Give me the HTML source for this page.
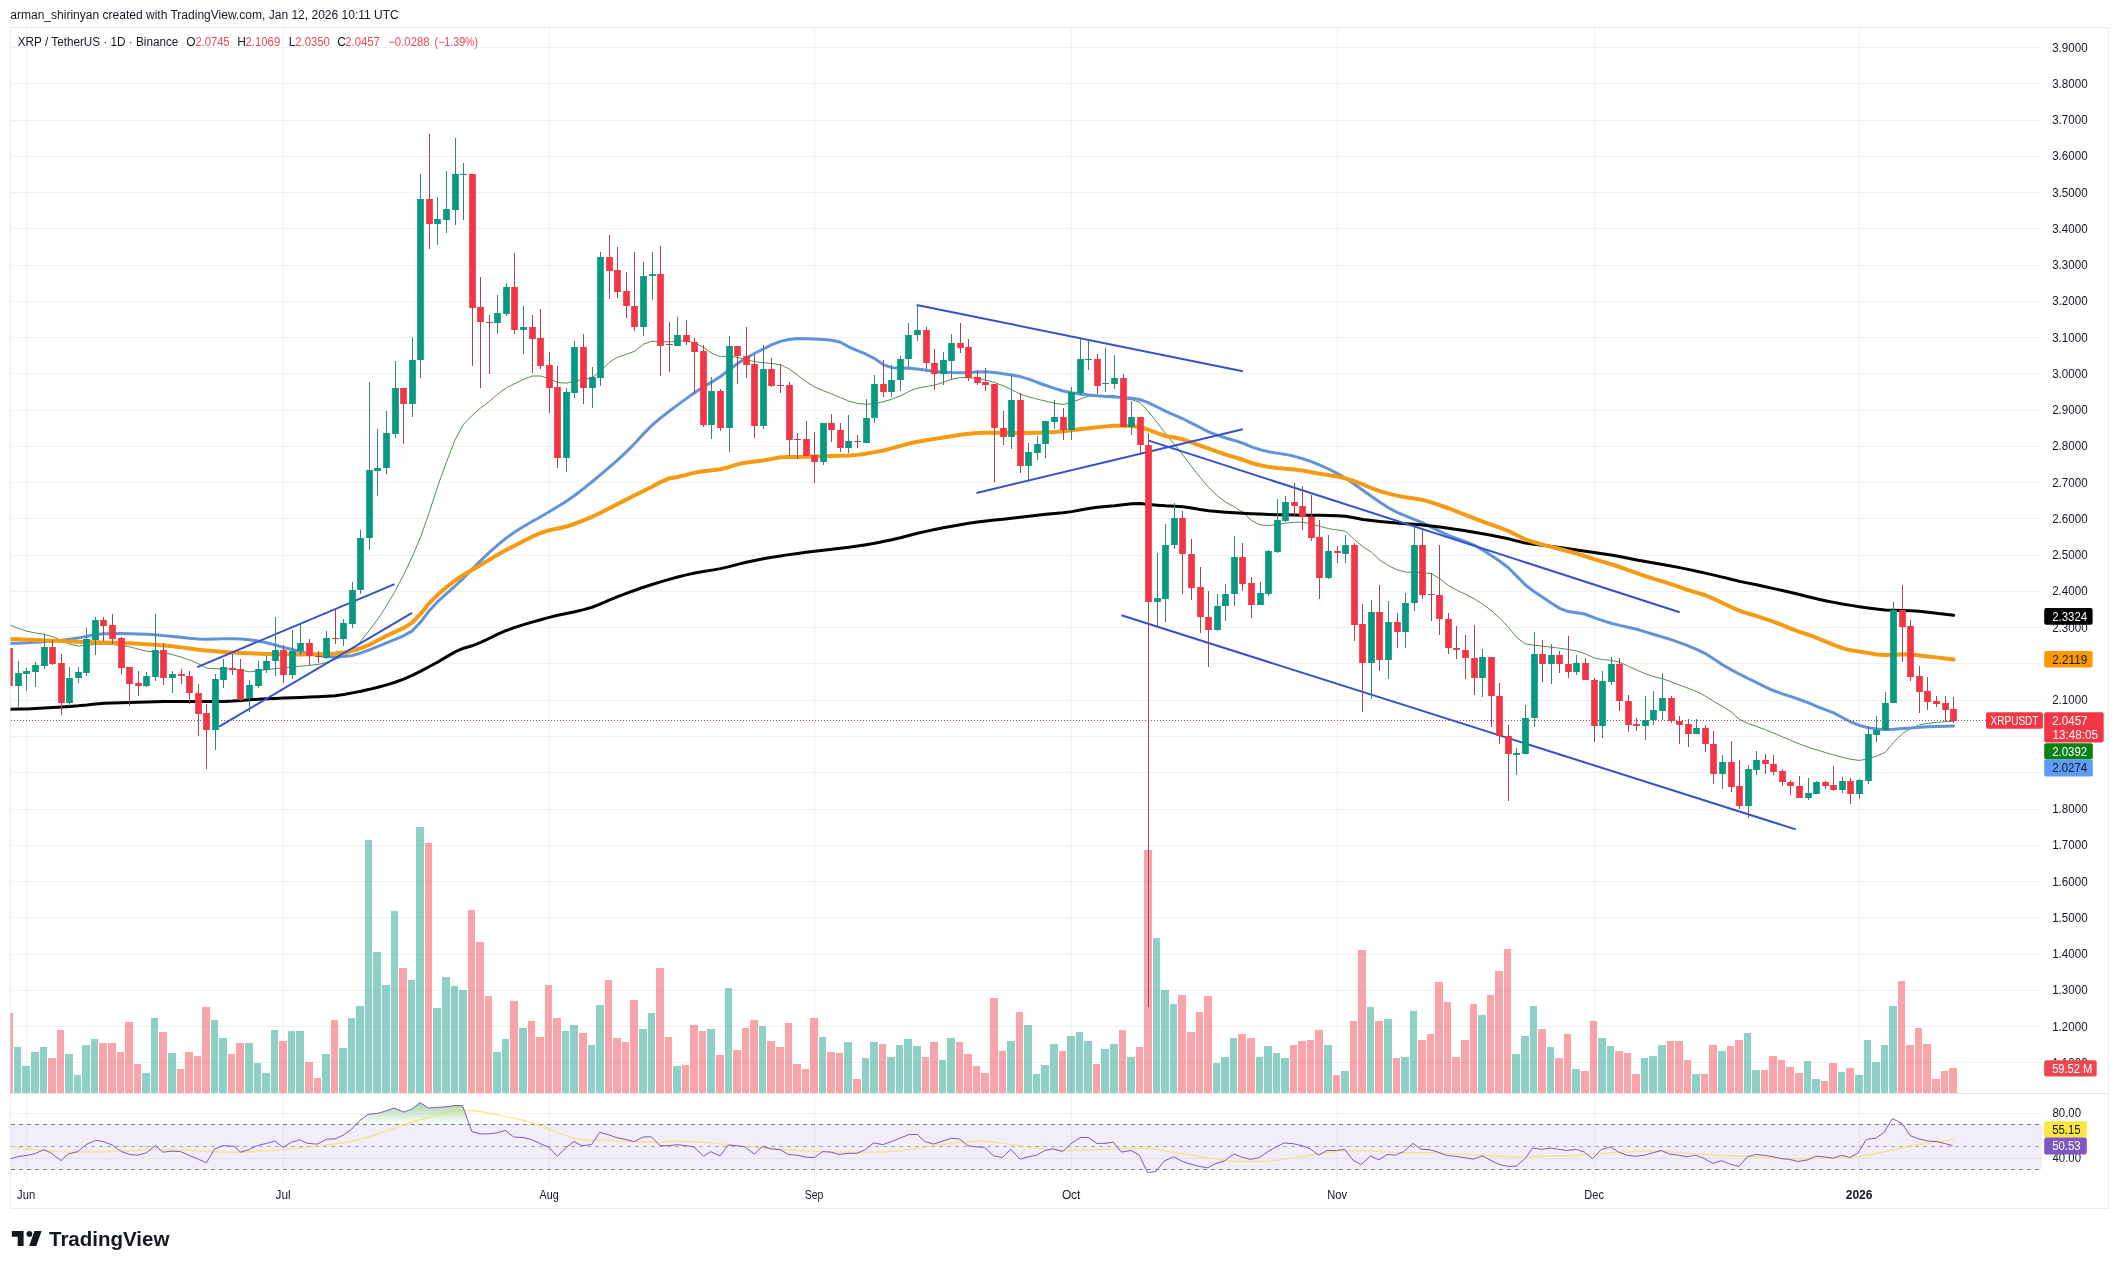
<!DOCTYPE html>
<html><head><meta charset="utf-8"><title>XRP / TetherUS chart</title>
<style>html,body{margin:0;padding:0;background:#fff;width:2119px;height:1269px;overflow:hidden}svg{display:block;will-change:transform}</style>
</head><body>
<svg width="2119" height="1269" viewBox="0 0 2119 1269"><defs>
<clipPath id="cmain"><rect x="10.5" y="27.5" width="2031.5" height="1066.0"/></clipPath>
<clipPath id="crsi"><rect x="10.5" y="1093.5" width="2031.5" height="89.5"/></clipPath>
<linearGradient id="gob" x1="0" y1="1100" x2="0" y2="1124.4" gradientUnits="userSpaceOnUse"><stop offset="0" stop-color="#4caf50" stop-opacity="0.55"/><stop offset="1" stop-color="#4caf50" stop-opacity="0.02"/></linearGradient>
</defs>
<rect x="10.5" y="27.5" width="2098.0" height="1181.0" fill="#fff" stroke="#ebebeb" stroke-width="1"/>
<g stroke="#f1f1f1" stroke-width="1" shape-rendering="crispEdges">
<line x1="10.5" y1="47.5" x2="2042" y2="47.5"/>
<line x1="10.5" y1="83.5" x2="2042" y2="83.5"/>
<line x1="10.5" y1="120.5" x2="2042" y2="120.5"/>
<line x1="10.5" y1="156.5" x2="2042" y2="156.5"/>
<line x1="10.5" y1="192.5" x2="2042" y2="192.5"/>
<line x1="10.5" y1="228.5" x2="2042" y2="228.5"/>
<line x1="10.5" y1="265.5" x2="2042" y2="265.5"/>
<line x1="10.5" y1="301.5" x2="2042" y2="301.5"/>
<line x1="10.5" y1="337.5" x2="2042" y2="337.5"/>
<line x1="10.5" y1="373.5" x2="2042" y2="373.5"/>
<line x1="10.5" y1="410.5" x2="2042" y2="410.5"/>
<line x1="10.5" y1="446.5" x2="2042" y2="446.5"/>
<line x1="10.5" y1="482.5" x2="2042" y2="482.5"/>
<line x1="10.5" y1="518.5" x2="2042" y2="518.5"/>
<line x1="10.5" y1="555.5" x2="2042" y2="555.5"/>
<line x1="10.5" y1="591.5" x2="2042" y2="591.5"/>
<line x1="10.5" y1="627.5" x2="2042" y2="627.5"/>
<line x1="10.5" y1="663.5" x2="2042" y2="663.5"/>
<line x1="10.5" y1="700.5" x2="2042" y2="700.5"/>
<line x1="10.5" y1="736.5" x2="2042" y2="736.5"/>
<line x1="10.5" y1="772.5" x2="2042" y2="772.5"/>
<line x1="10.5" y1="809.5" x2="2042" y2="809.5"/>
<line x1="10.5" y1="845.5" x2="2042" y2="845.5"/>
<line x1="10.5" y1="881.5" x2="2042" y2="881.5"/>
<line x1="10.5" y1="917.5" x2="2042" y2="917.5"/>
<line x1="10.5" y1="954.5" x2="2042" y2="954.5"/>
<line x1="10.5" y1="990.5" x2="2042" y2="990.5"/>
<line x1="10.5" y1="1026.5" x2="2042" y2="1026.5"/>
<line x1="10.5" y1="1062.5" x2="2042" y2="1062.5"/>
<line x1="10.5" y1="1113.5" x2="2042" y2="1113.5"/>
<line x1="10.5" y1="1158.5" x2="2042" y2="1158.5"/>
<line x1="26.5" y1="27.5" x2="26.5" y2="1183"/>
<line x1="283.5" y1="27.5" x2="283.5" y2="1183"/>
<line x1="549.5" y1="27.5" x2="549.5" y2="1183"/>
<line x1="814.5" y1="27.5" x2="814.5" y2="1183"/>
<line x1="1071.5" y1="27.5" x2="1071.5" y2="1183"/>
<line x1="1337.5" y1="27.5" x2="1337.5" y2="1183"/>
<line x1="1594.5" y1="27.5" x2="1594.5" y2="1183"/>
<line x1="1859.5" y1="27.5" x2="1859.5" y2="1183"/>
</g>
<g clip-path="url(#cmain)" fill-opacity="0.46">
<rect x="5" y="1013" width="8" height="80" fill="#f23645"/>
<rect x="14" y="1047" width="7" height="46" fill="#089981"/>
<rect x="22" y="1066" width="8" height="27" fill="#089981"/>
<rect x="31" y="1052" width="8" height="41" fill="#089981"/>
<rect x="40" y="1047" width="7" height="46" fill="#089981"/>
<rect x="48" y="1058" width="8" height="35" fill="#f23645"/>
<rect x="57" y="1030" width="7" height="63" fill="#f23645"/>
<rect x="65" y="1054" width="8" height="39" fill="#089981"/>
<rect x="74" y="1075" width="7" height="18" fill="#089981"/>
<rect x="82" y="1045" width="8" height="48" fill="#089981"/>
<rect x="91" y="1039" width="7" height="54" fill="#089981"/>
<rect x="99" y="1043" width="8" height="50" fill="#f23645"/>
<rect x="108" y="1043" width="8" height="50" fill="#f23645"/>
<rect x="117" y="1052" width="7" height="41" fill="#f23645"/>
<rect x="125" y="1022" width="8" height="71" fill="#f23645"/>
<rect x="134" y="1064" width="7" height="29" fill="#f23645"/>
<rect x="142" y="1073" width="8" height="20" fill="#089981"/>
<rect x="151" y="1018" width="7" height="75" fill="#089981"/>
<rect x="159" y="1032" width="8" height="61" fill="#f23645"/>
<rect x="168" y="1053" width="8" height="40" fill="#089981"/>
<rect x="177" y="1069" width="7" height="24" fill="#f23645"/>
<rect x="185" y="1052" width="8" height="41" fill="#f23645"/>
<rect x="194" y="1056" width="7" height="37" fill="#f23645"/>
<rect x="202" y="1007" width="8" height="86" fill="#f23645"/>
<rect x="211" y="1020" width="7" height="73" fill="#089981"/>
<rect x="219" y="1038" width="8" height="55" fill="#089981"/>
<rect x="228" y="1054" width="7" height="39" fill="#f23645"/>
<rect x="236" y="1043" width="8" height="50" fill="#f23645"/>
<rect x="245" y="1043" width="8" height="50" fill="#089981"/>
<rect x="254" y="1063" width="7" height="30" fill="#089981"/>
<rect x="262" y="1073" width="8" height="20" fill="#089981"/>
<rect x="271" y="1030" width="7" height="63" fill="#089981"/>
<rect x="279" y="1041" width="8" height="52" fill="#f23645"/>
<rect x="288" y="1031" width="7" height="62" fill="#089981"/>
<rect x="296" y="1031" width="8" height="62" fill="#089981"/>
<rect x="305" y="1062" width="8" height="31" fill="#f23645"/>
<rect x="314" y="1078" width="7" height="15" fill="#f23645"/>
<rect x="322" y="1054" width="8" height="39" fill="#089981"/>
<rect x="331" y="1020" width="7" height="73" fill="#f23645"/>
<rect x="339" y="1048" width="8" height="45" fill="#089981"/>
<rect x="348" y="1018" width="7" height="75" fill="#089981"/>
<rect x="356" y="1006" width="8" height="87" fill="#089981"/>
<rect x="365" y="840" width="7" height="253" fill="#089981"/>
<rect x="373" y="952" width="8" height="141" fill="#089981"/>
<rect x="382" y="985" width="8" height="108" fill="#089981"/>
<rect x="391" y="911" width="7" height="182" fill="#089981"/>
<rect x="399" y="968" width="8" height="125" fill="#f23645"/>
<rect x="408" y="980" width="7" height="113" fill="#089981"/>
<rect x="416" y="827" width="8" height="266" fill="#089981"/>
<rect x="425" y="843" width="7" height="250" fill="#f23645"/>
<rect x="433" y="1008" width="8" height="85" fill="#089981"/>
<rect x="442" y="977" width="8" height="116" fill="#089981"/>
<rect x="451" y="986" width="7" height="107" fill="#089981"/>
<rect x="459" y="990" width="8" height="103" fill="#089981"/>
<rect x="468" y="910" width="7" height="183" fill="#f23645"/>
<rect x="476" y="942" width="8" height="151" fill="#f23645"/>
<rect x="485" y="996" width="7" height="97" fill="#f23645"/>
<rect x="493" y="1052" width="8" height="41" fill="#089981"/>
<rect x="502" y="1039" width="7" height="54" fill="#089981"/>
<rect x="510" y="1001" width="8" height="92" fill="#f23645"/>
<rect x="519" y="1028" width="8" height="65" fill="#089981"/>
<rect x="528" y="1021" width="7" height="72" fill="#f23645"/>
<rect x="536" y="1037" width="8" height="56" fill="#f23645"/>
<rect x="545" y="985" width="7" height="108" fill="#f23645"/>
<rect x="553" y="1018" width="8" height="75" fill="#f23645"/>
<rect x="562" y="1031" width="7" height="62" fill="#089981"/>
<rect x="570" y="1025" width="8" height="68" fill="#089981"/>
<rect x="579" y="1033" width="8" height="60" fill="#f23645"/>
<rect x="588" y="1045" width="7" height="48" fill="#089981"/>
<rect x="596" y="1005" width="8" height="88" fill="#089981"/>
<rect x="605" y="980" width="7" height="113" fill="#f23645"/>
<rect x="613" y="1038" width="8" height="55" fill="#f23645"/>
<rect x="622" y="1042" width="7" height="51" fill="#f23645"/>
<rect x="630" y="1000" width="8" height="93" fill="#f23645"/>
<rect x="639" y="1029" width="8" height="64" fill="#089981"/>
<rect x="648" y="1013" width="7" height="80" fill="#089981"/>
<rect x="656" y="968" width="8" height="125" fill="#f23645"/>
<rect x="665" y="1037" width="7" height="56" fill="#f23645"/>
<rect x="673" y="1066" width="8" height="27" fill="#089981"/>
<rect x="682" y="1065" width="7" height="28" fill="#f23645"/>
<rect x="690" y="1025" width="8" height="68" fill="#f23645"/>
<rect x="699" y="1031" width="7" height="62" fill="#f23645"/>
<rect x="707" y="1029" width="8" height="64" fill="#089981"/>
<rect x="716" y="1055" width="8" height="38" fill="#f23645"/>
<rect x="725" y="988" width="7" height="105" fill="#089981"/>
<rect x="733" y="1050" width="8" height="43" fill="#f23645"/>
<rect x="742" y="1028" width="7" height="65" fill="#f23645"/>
<rect x="750" y="1020" width="8" height="73" fill="#f23645"/>
<rect x="759" y="1026" width="7" height="67" fill="#089981"/>
<rect x="767" y="1041" width="8" height="52" fill="#f23645"/>
<rect x="776" y="1047" width="8" height="46" fill="#f23645"/>
<rect x="785" y="1023" width="7" height="70" fill="#f23645"/>
<rect x="793" y="1064" width="8" height="29" fill="#f23645"/>
<rect x="802" y="1069" width="7" height="24" fill="#f23645"/>
<rect x="810" y="1018" width="8" height="75" fill="#f23645"/>
<rect x="819" y="1037" width="7" height="56" fill="#089981"/>
<rect x="827" y="1052" width="8" height="41" fill="#f23645"/>
<rect x="836" y="1053" width="7" height="40" fill="#f23645"/>
<rect x="844" y="1042" width="8" height="51" fill="#089981"/>
<rect x="853" y="1079" width="8" height="14" fill="#f23645"/>
<rect x="862" y="1058" width="7" height="35" fill="#089981"/>
<rect x="870" y="1042" width="8" height="51" fill="#089981"/>
<rect x="879" y="1044" width="7" height="49" fill="#f23645"/>
<rect x="887" y="1057" width="8" height="36" fill="#089981"/>
<rect x="896" y="1045" width="7" height="48" fill="#089981"/>
<rect x="904" y="1039" width="8" height="54" fill="#089981"/>
<rect x="913" y="1046" width="8" height="47" fill="#089981"/>
<rect x="922" y="1057" width="7" height="36" fill="#f23645"/>
<rect x="930" y="1042" width="8" height="51" fill="#f23645"/>
<rect x="939" y="1060" width="7" height="33" fill="#089981"/>
<rect x="947" y="1038" width="8" height="55" fill="#089981"/>
<rect x="956" y="1042" width="7" height="51" fill="#f23645"/>
<rect x="964" y="1054" width="8" height="39" fill="#f23645"/>
<rect x="973" y="1066" width="7" height="27" fill="#f23645"/>
<rect x="981" y="1073" width="8" height="20" fill="#f23645"/>
<rect x="990" y="998" width="8" height="95" fill="#f23645"/>
<rect x="999" y="1051" width="7" height="42" fill="#f23645"/>
<rect x="1007" y="1041" width="8" height="52" fill="#089981"/>
<rect x="1016" y="1012" width="7" height="81" fill="#f23645"/>
<rect x="1024" y="1025" width="8" height="68" fill="#089981"/>
<rect x="1033" y="1074" width="7" height="19" fill="#089981"/>
<rect x="1041" y="1065" width="8" height="28" fill="#089981"/>
<rect x="1050" y="1044" width="8" height="49" fill="#089981"/>
<rect x="1059" y="1051" width="7" height="42" fill="#f23645"/>
<rect x="1067" y="1036" width="8" height="57" fill="#089981"/>
<rect x="1076" y="1032" width="7" height="61" fill="#089981"/>
<rect x="1084" y="1041" width="8" height="52" fill="#089981"/>
<rect x="1093" y="1064" width="7" height="29" fill="#f23645"/>
<rect x="1101" y="1049" width="8" height="44" fill="#089981"/>
<rect x="1110" y="1044" width="8" height="49" fill="#089981"/>
<rect x="1119" y="1030" width="7" height="63" fill="#f23645"/>
<rect x="1127" y="1057" width="8" height="36" fill="#089981"/>
<rect x="1136" y="1047" width="7" height="46" fill="#f23645"/>
<rect x="1144" y="850" width="8" height="243" fill="#f23645"/>
<rect x="1153" y="938" width="7" height="155" fill="#089981"/>
<rect x="1161" y="990" width="8" height="103" fill="#089981"/>
<rect x="1170" y="1004" width="7" height="89" fill="#089981"/>
<rect x="1178" y="995" width="8" height="98" fill="#f23645"/>
<rect x="1187" y="1032" width="8" height="61" fill="#f23645"/>
<rect x="1196" y="1012" width="7" height="81" fill="#f23645"/>
<rect x="1204" y="996" width="8" height="97" fill="#f23645"/>
<rect x="1213" y="1063" width="7" height="30" fill="#089981"/>
<rect x="1221" y="1057" width="8" height="36" fill="#089981"/>
<rect x="1230" y="1038" width="7" height="55" fill="#089981"/>
<rect x="1238" y="1034" width="8" height="59" fill="#f23645"/>
<rect x="1247" y="1038" width="8" height="55" fill="#f23645"/>
<rect x="1256" y="1057" width="7" height="36" fill="#089981"/>
<rect x="1264" y="1046" width="8" height="47" fill="#089981"/>
<rect x="1273" y="1053" width="7" height="40" fill="#089981"/>
<rect x="1281" y="1058" width="8" height="35" fill="#089981"/>
<rect x="1290" y="1045" width="7" height="48" fill="#f23645"/>
<rect x="1298" y="1041" width="8" height="52" fill="#f23645"/>
<rect x="1307" y="1040" width="7" height="53" fill="#f23645"/>
<rect x="1315" y="1030" width="8" height="63" fill="#f23645"/>
<rect x="1324" y="1045" width="8" height="48" fill="#089981"/>
<rect x="1333" y="1075" width="7" height="18" fill="#f23645"/>
<rect x="1341" y="1071" width="8" height="22" fill="#089981"/>
<rect x="1350" y="1021" width="7" height="72" fill="#f23645"/>
<rect x="1358" y="950" width="8" height="143" fill="#f23645"/>
<rect x="1367" y="1007" width="7" height="86" fill="#089981"/>
<rect x="1375" y="1021" width="8" height="72" fill="#f23645"/>
<rect x="1384" y="1019" width="8" height="74" fill="#089981"/>
<rect x="1393" y="1058" width="7" height="35" fill="#f23645"/>
<rect x="1401" y="1057" width="8" height="36" fill="#089981"/>
<rect x="1410" y="1011" width="7" height="82" fill="#089981"/>
<rect x="1418" y="1040" width="8" height="53" fill="#f23645"/>
<rect x="1427" y="1034" width="7" height="59" fill="#f23645"/>
<rect x="1435" y="982" width="8" height="111" fill="#f23645"/>
<rect x="1444" y="1002" width="7" height="91" fill="#f23645"/>
<rect x="1452" y="1057" width="8" height="36" fill="#f23645"/>
<rect x="1461" y="1040" width="8" height="53" fill="#f23645"/>
<rect x="1470" y="1004" width="7" height="89" fill="#f23645"/>
<rect x="1478" y="1015" width="8" height="78" fill="#089981"/>
<rect x="1487" y="995" width="7" height="98" fill="#f23645"/>
<rect x="1495" y="971" width="8" height="122" fill="#f23645"/>
<rect x="1504" y="949" width="7" height="144" fill="#f23645"/>
<rect x="1512" y="1054" width="8" height="39" fill="#089981"/>
<rect x="1521" y="1036" width="8" height="57" fill="#089981"/>
<rect x="1530" y="1006" width="7" height="87" fill="#089981"/>
<rect x="1538" y="1029" width="8" height="64" fill="#f23645"/>
<rect x="1547" y="1047" width="7" height="46" fill="#089981"/>
<rect x="1555" y="1058" width="8" height="35" fill="#f23645"/>
<rect x="1564" y="1034" width="7" height="59" fill="#f23645"/>
<rect x="1572" y="1069" width="8" height="24" fill="#089981"/>
<rect x="1581" y="1071" width="8" height="22" fill="#f23645"/>
<rect x="1590" y="1021" width="7" height="72" fill="#f23645"/>
<rect x="1598" y="1038" width="8" height="55" fill="#089981"/>
<rect x="1607" y="1046" width="7" height="47" fill="#089981"/>
<rect x="1615" y="1051" width="8" height="42" fill="#f23645"/>
<rect x="1624" y="1053" width="7" height="40" fill="#f23645"/>
<rect x="1632" y="1074" width="8" height="19" fill="#f23645"/>
<rect x="1641" y="1058" width="7" height="35" fill="#089981"/>
<rect x="1649" y="1056" width="8" height="37" fill="#089981"/>
<rect x="1658" y="1045" width="8" height="48" fill="#089981"/>
<rect x="1667" y="1041" width="7" height="52" fill="#f23645"/>
<rect x="1675" y="1041" width="8" height="52" fill="#f23645"/>
<rect x="1684" y="1060" width="7" height="33" fill="#f23645"/>
<rect x="1692" y="1074" width="8" height="19" fill="#089981"/>
<rect x="1701" y="1074" width="7" height="19" fill="#f23645"/>
<rect x="1709" y="1045" width="8" height="48" fill="#f23645"/>
<rect x="1718" y="1051" width="8" height="42" fill="#089981"/>
<rect x="1727" y="1046" width="7" height="47" fill="#f23645"/>
<rect x="1735" y="1040" width="8" height="53" fill="#f23645"/>
<rect x="1744" y="1033" width="7" height="60" fill="#089981"/>
<rect x="1752" y="1070" width="8" height="23" fill="#089981"/>
<rect x="1761" y="1070" width="7" height="23" fill="#f23645"/>
<rect x="1769" y="1056" width="8" height="37" fill="#f23645"/>
<rect x="1778" y="1060" width="7" height="33" fill="#f23645"/>
<rect x="1786" y="1067" width="8" height="26" fill="#f23645"/>
<rect x="1795" y="1073" width="8" height="20" fill="#f23645"/>
<rect x="1804" y="1061" width="7" height="32" fill="#089981"/>
<rect x="1812" y="1079" width="8" height="14" fill="#089981"/>
<rect x="1821" y="1081" width="7" height="12" fill="#f23645"/>
<rect x="1829" y="1063" width="8" height="30" fill="#f23645"/>
<rect x="1838" y="1072" width="7" height="21" fill="#089981"/>
<rect x="1846" y="1068" width="8" height="25" fill="#f23645"/>
<rect x="1855" y="1075" width="8" height="18" fill="#089981"/>
<rect x="1864" y="1040" width="7" height="53" fill="#089981"/>
<rect x="1872" y="1062" width="8" height="31" fill="#089981"/>
<rect x="1881" y="1045" width="7" height="48" fill="#089981"/>
<rect x="1889" y="1006" width="8" height="87" fill="#089981"/>
<rect x="1898" y="981" width="7" height="112" fill="#f23645"/>
<rect x="1906" y="1045" width="8" height="48" fill="#f23645"/>
<rect x="1915" y="1028" width="7" height="65" fill="#f23645"/>
<rect x="1923" y="1044" width="8" height="49" fill="#f23645"/>
<rect x="1932" y="1079" width="8" height="14" fill="#f23645"/>
<rect x="1941" y="1071" width="7" height="22" fill="#f23645"/>
<rect x="1949" y="1068" width="8" height="25" fill="#f23645"/>
</g>
<g clip-path="url(#cmain)" fill="none" stroke-linejoin="round" stroke-linecap="round">
<polyline points="10,624.8 18.32,628.38 26.88,631.22 35.44,632.97 44.01,634.29 52.57,636.78 61.13,640.17 69.7,644.14 78.26,646 86.82,645.29 95.39,644.23 103.95,644.07 112.51,644.6 121.08,645.55 129.64,646.75 138.21,649.14 146.77,651.25 155.33,652.04 163.9,652.85 172.46,654.56 181.02,657.01 189.59,660.02 198.15,663.57 206.71,668.17 215.28,668.75 223.84,668.91 232.4,669.12 240.97,670.19 249.53,671.8 258.09,671.03 266.66,669.64 275.22,668.66 283.78,667.8 292.35,666.98 300.91,666.15 309.48,665.37 318.04,664.44 326.6,662.45 335.17,659.42 343.73,656.08 352.29,650.93 360.86,641.13 369.42,630.39 377.98,618.74 386.55,605.81 395.11,591.18 403.67,574.73 412.24,556.8 420.8,536.5 429.36,511.92 437.93,485.49 446.49,461.91 455.05,439.86 463.62,424.09 472.18,415.35 480.75,407.82 489.31,401.47 497.87,393.97 506.44,387.74 515,383.55 523.56,379.3 532.13,376 540.69,376 549.25,378.74 557.82,382.63 566.38,383.11 574.94,380.91 583.51,379.6 592.07,377.73 600.63,371.01 609.2,362.34 617.76,357.04 626.32,354.33 634.89,351.16 643.45,344.26 652.02,341.22 660.58,341.61 669.14,341.9 677.71,341.27 686.27,340.86 694.83,343 703.4,347.35 711.96,353.4 720.52,356.69 729.09,356.05 737.65,357.39 746.21,359.66 754.78,361.65 763.34,362.69 771.9,363.52 780.47,364.86 789.03,368.85 797.59,375.12 806.16,381.8 814.72,387.05 823.29,390.69 831.85,393.92 840.41,397.49 848.98,401.31 857.54,403.37 866.1,404.3 874.67,403.46 883.23,401.84 891.79,399.24 900.36,395.9 908.92,391.48 917.48,388.17 926.05,386.51 934.61,385.05 943.17,382.5 951.74,379.17 960.3,377.5 968.86,377.78 977.43,378.43 985.99,380.1 994.56,382.5 1003.12,385.76 1011.68,389.77 1020.25,394.09 1028.81,396.9 1037.37,399.17 1045.94,401.16 1054.5,403.27 1063.06,404.48 1071.63,402.47 1080.19,399.08 1088.75,396.14 1097.32,395.5 1105.88,395.5 1114.44,395.67 1123.01,398.49 1131.57,399.68 1140.13,402.45 1148.7,412.09 1157.26,422.66 1165.83,434.02 1174.39,444.44 1182.95,455.09 1191.52,466.41 1200.08,477.31 1208.64,487.5 1217.21,495.65 1225.77,502.21 1234.33,506.83 1242.9,512.1 1251.46,520.47 1260.02,524.81 1268.59,525.57 1277.15,524.76 1285.71,523.1 1294.28,522.28 1302.84,522.11 1311.4,524.08 1319.97,526.33 1328.53,528.58 1337.1,529.93 1345.66,531.28 1354.22,539.55 1362.79,546.54 1371.35,552.18 1379.91,560.2 1388.48,565.64 1397.04,569.92 1405.6,572.09 1414.17,572.48 1422.73,572.7 1431.29,573.58 1439.86,578.75 1448.42,585.5 1456.98,590.29 1465.55,594.32 1474.11,598.75 1482.67,604.13 1491.24,610.5 1499.8,618.42 1508.37,627.08 1516.93,637.77 1525.49,643.93 1534.06,645.26 1542.62,646.15 1551.18,647.18 1559.75,648.23 1568.31,649.48 1576.87,651.05 1585.44,653.87 1594,657.87 1602.56,659.58 1611.13,660.37 1619.69,662.2 1628.25,666.23 1636.82,670.11 1645.38,673.75 1653.94,676.61 1662.51,678.73 1671.07,681.81 1679.64,685.17 1688.2,688.26 1696.76,691.65 1705.33,696.17 1713.89,701.43 1722.45,706.38 1731.02,711.85 1739.58,719.39 1748.14,723.61 1756.71,726.45 1765.27,729.7 1773.83,733.16 1782.4,736.82 1790.96,740.48 1799.52,744.01 1808.09,747.13 1816.65,749.83 1825.21,752.48 1833.78,755.02 1842.34,757.31 1850.91,759.25 1859.47,760.48 1868.03,758.68 1876.6,756.1 1885.16,752.37 1893.72,742.2 1902.29,733.68 1910.85,728.22 1919.41,724.88 1927.98,723.32 1936.54,722.38 1945.1,721.72 1953.67,721.3" stroke="#588c52" stroke-width="1"/>
<polyline points="10,643.3 18.32,643.19 26.88,642.86 35.44,642.37 44.01,641.75 52.57,641.04 61.13,640.3 69.7,639.22 78.26,637.88 86.82,636.22 95.39,634.46 103.95,633.87 112.51,633.66 121.08,633.6 129.64,633.72 138.21,633.99 146.77,634.35 155.33,634.84 163.9,635.63 172.46,636.42 181.02,637.35 189.59,638.29 198.15,638.99 206.71,639.19 215.28,639.02 223.84,638.78 232.4,638.72 240.97,639.1 249.53,639.76 258.09,640.96 266.66,642.83 275.22,644.97 283.78,647.48 292.35,649.56 300.91,651.81 309.48,653.91 318.04,655.29 326.6,656.42 335.17,656.9 343.73,656.57 352.29,655.63 360.86,652.88 369.42,649.81 377.98,646.42 386.55,642.82 395.11,639.4 403.67,635.81 412.24,630.85 420.8,621.81 429.36,610.66 437.93,601.3 446.49,593.52 455.05,586.03 463.62,577.97 472.18,569.04 480.75,560.61 489.31,552.46 497.87,544.8 506.44,537.85 515,531.79 523.56,526.47 532.13,521.56 540.69,516.76 549.25,511.73 557.82,506.54 566.38,501.2 574.94,495.25 583.51,488.68 592.07,481.75 600.63,474.66 609.2,467.38 617.76,459.81 626.32,451.9 634.89,443.22 643.45,433.87 652.02,425.24 660.58,417.92 669.14,411.23 677.71,404.88 686.27,398.61 694.83,392.54 703.4,386.96 711.96,381.86 720.52,376.44 729.09,370.05 737.65,363.51 746.21,357.97 754.78,353.25 763.34,348.98 771.9,344.7 780.47,341.4 789.03,339.55 797.59,338.6 806.16,338.71 814.72,339.03 823.29,339.48 831.85,340.33 840.41,342.22 848.98,347 857.54,350.71 866.1,354.21 874.67,358.64 883.23,364.58 891.79,367.66 900.36,368.05 908.92,368.3 917.48,368.94 926.05,370.28 934.61,371.52 943.17,372.14 951.74,372.61 960.3,372.8 968.86,372.47 977.43,371.91 985.99,371.73 994.56,372.43 1003.12,373.64 1011.68,374.91 1020.25,376.56 1028.81,379.19 1037.37,382.47 1045.94,385.5 1054.5,388.37 1063.06,390.98 1071.63,392.78 1080.19,394.06 1088.75,395.06 1097.32,395.84 1105.88,396.41 1114.44,396.96 1123.01,397.57 1131.57,398.23 1140.13,399.56 1148.7,402.79 1157.26,407.03 1165.83,411.44 1174.39,415.03 1182.95,418.78 1191.52,423.08 1200.08,427.5 1208.64,431.83 1217.21,435.14 1225.77,437.95 1234.33,440.44 1242.9,443.22 1251.46,446.84 1260.02,449.62 1268.59,451.7 1277.15,453.12 1285.71,454.4 1294.28,456.32 1302.84,458.71 1311.4,461.67 1319.97,465.08 1328.53,468.99 1337.1,473.33 1345.66,478.23 1354.22,484.05 1362.79,490.22 1371.35,496.29 1379.91,502.18 1388.48,507.84 1397.04,512.26 1405.6,515.92 1414.17,519.3 1422.73,522.81 1431.29,527.17 1439.86,531.39 1448.42,535.27 1456.98,538.67 1465.55,541.61 1474.11,545.06 1482.67,549.96 1491.24,555.61 1499.8,561.31 1508.37,567.79 1516.93,576.38 1525.49,584.96 1534.06,591.47 1542.62,597.15 1551.18,602.91 1559.75,608.36 1568.31,611.56 1576.87,612.72 1585.44,614.26 1594,617.63 1602.56,620.63 1611.13,623.22 1619.69,625.39 1628.25,627.19 1636.82,629.29 1645.38,631.85 1653.94,634.46 1662.51,636.99 1671.07,639.68 1679.64,642.56 1688.2,645.76 1696.76,649.37 1705.33,653.57 1713.89,658.98 1722.45,664.71 1731.02,669.63 1739.58,674.21 1748.14,678.53 1756.71,682.63 1765.27,686.79 1773.83,690.77 1782.4,693.81 1790.96,696.59 1799.52,699.49 1808.09,702.71 1816.65,706.4 1825.21,709.72 1833.78,712.95 1842.34,717.49 1850.91,721.99 1859.47,725.45 1868.03,727.61 1876.6,729.07 1885.16,729.48 1893.72,729.13 1902.29,728.53 1910.85,727.95 1919.41,727.36 1927.98,726.8 1936.54,726.46 1945.1,726.22 1953.67,726.1" stroke="#6292d8" stroke-width="3"/>
<polyline points="10,709.2 18.32,709.11 26.88,708.88 35.44,708.55 44.01,708.12 52.57,707.62 61.13,707.06 69.7,706.45 78.26,705.83 86.82,704.97 95.39,703.89 103.95,703.29 112.51,702.93 121.08,702.65 129.64,702.41 138.21,702.16 146.77,701.9 155.33,701.68 163.9,701.53 172.46,701.5 181.02,701.5 189.59,701.5 198.15,701.5 206.71,701.5 215.28,701.5 223.84,701.45 232.4,701.08 240.97,700.46 249.53,699.76 258.09,699.16 266.66,698.75 275.22,698.41 283.78,698.1 292.35,697.79 300.91,697.45 309.48,697.09 318.04,696.73 326.6,696.29 335.17,695.69 343.73,694.46 352.29,692.88 360.86,691.21 369.42,689.34 377.98,687.24 386.55,684.9 395.11,682.24 403.67,679.17 412.24,675.39 420.8,671.07 429.36,666.54 437.93,662 446.49,656.87 455.05,651.91 463.62,648.2 472.18,645.77 480.75,642.33 489.31,638.32 497.87,634.22 506.44,630.49 515,627.44 523.56,624.68 532.13,622.12 540.69,619.72 549.25,617.41 557.82,615.33 566.38,613.49 574.94,611.67 583.51,609.66 592.07,607.25 600.63,603.97 609.2,600.15 617.76,596.65 626.32,593.4 634.89,590.25 643.45,587.26 652.02,584.49 660.58,581.88 669.14,579.36 677.71,577 686.27,574.85 694.83,572.95 703.4,571.43 711.96,570.11 720.52,568.62 729.09,566.63 737.65,564.33 746.21,562.18 754.78,560.41 763.34,558.78 771.9,557.28 780.47,555.9 789.03,554.64 797.59,553.48 806.16,552.36 814.72,551.25 823.29,550.2 831.85,549.21 840.41,548.22 848.98,547.18 857.54,546.03 866.1,544.7 874.67,543.19 883.23,541.51 891.79,539.72 900.36,537.71 908.92,535.47 917.48,533.32 926.05,531.4 934.61,529.56 943.17,527.8 951.74,526.16 960.3,524.66 968.86,523.28 977.43,522.02 985.99,520.92 994.56,520 1003.12,519.18 1011.68,518.31 1020.25,517.32 1028.81,516.25 1037.37,515.2 1045.94,514.24 1054.5,513.44 1063.06,512.65 1071.63,511.62 1080.19,510.08 1088.75,508.47 1097.32,507.33 1105.88,506.49 1114.44,505.72 1123.01,504.75 1131.57,503.69 1140.13,503.53 1148.7,504.53 1157.26,505.25 1165.83,505.86 1174.39,506.23 1182.95,506.75 1191.52,508 1200.08,509.56 1208.64,510.84 1217.21,511.58 1225.77,512.16 1234.33,512.66 1242.9,513.14 1251.46,513.64 1260.02,514.09 1268.59,514.44 1277.15,514.67 1285.71,514.85 1294.28,515 1302.84,515.13 1311.4,515.23 1319.97,515.32 1328.53,515.45 1337.1,515.71 1345.66,516.26 1354.22,517.82 1362.79,519.53 1371.35,520.61 1379.91,521.52 1388.48,522.33 1397.04,523.08 1405.6,523.72 1414.17,524.36 1422.73,525.11 1431.29,526.03 1439.86,527.09 1448.42,528.23 1456.98,529.45 1465.55,530.78 1474.11,532.22 1482.67,533.72 1491.24,535.3 1499.8,536.98 1508.37,538.8 1516.93,541.08 1525.49,543.13 1534.06,544.35 1542.62,545.35 1551.18,546.39 1559.75,547.44 1568.31,548.66 1576.87,549.98 1585.44,551.24 1594,552.47 1602.56,553.72 1611.13,554.99 1619.69,556.48 1628.25,558.25 1636.82,559.92 1645.38,561.45 1653.94,562.94 1662.51,564.4 1671.07,565.93 1679.64,567.62 1688.2,569.39 1696.76,571.22 1705.33,573.13 1713.89,575.11 1722.45,577.15 1731.02,579.27 1739.58,581.36 1748.14,583.15 1756.71,584.83 1765.27,586.67 1773.83,588.61 1782.4,590.53 1790.96,592.47 1799.52,594.55 1808.09,596.75 1816.65,598.79 1825.21,600.68 1833.78,602.39 1842.34,603.93 1850.91,605.36 1859.47,606.72 1868.03,607.92 1876.6,609.1 1885.16,609.97 1893.72,610.3 1902.29,610.48 1910.85,610.74 1919.41,611.36 1927.98,612.23 1936.54,613.14 1945.1,614.14 1953.67,615.2" stroke="#000" stroke-width="3"/>
<polyline points="10,639 18.32,639.34 26.88,639.69 35.44,640.03 44.01,640.38 52.57,640.71 61.13,641.04 69.7,641.38 78.26,641.72 86.82,642.05 95.39,642.35 103.95,642.61 112.51,642.82 121.08,643.02 129.64,643.29 138.21,643.68 146.77,644.21 155.33,644.84 163.9,645.56 172.46,646.34 181.02,647.38 189.59,648.57 198.15,649.68 206.71,650.54 215.28,651.29 223.84,651.95 232.4,652.5 240.97,652.95 249.53,653.36 258.09,653.7 266.66,653.95 275.22,654.11 283.78,654.25 292.35,654.35 300.91,654.4 309.48,654.36 318.04,654.2 326.6,653.94 335.17,653.59 343.73,652.59 352.29,650.89 360.86,648.21 369.42,644.72 377.98,640.32 386.55,635.78 395.11,631.82 403.67,627.87 412.24,622.61 420.8,613.66 429.36,603.07 437.93,594.47 446.49,587.12 455.05,580.5 463.62,574.72 472.18,569.95 480.75,564.89 489.31,559.72 497.87,554.63 506.44,549.85 515,545.4 523.56,540.92 532.13,536.67 540.69,532.99 549.25,530.21 557.82,528.55 566.38,526.56 574.94,523.73 583.51,520.39 592.07,516.8 600.63,512.73 609.2,508.25 617.76,503.87 626.32,499.57 634.89,495.27 643.45,490.99 652.02,486.74 660.58,482.07 669.14,478.44 677.71,476.92 686.27,474.94 694.83,472.62 703.4,471.19 711.96,470.33 720.52,469.2 729.09,466.96 737.65,464.33 746.21,462.58 754.78,461.5 763.34,460.49 771.9,458.9 780.47,457.32 789.03,457.07 797.59,456.95 806.16,456.8 814.72,456.56 823.29,456.3 831.85,456.04 840.41,455.83 848.98,455.55 857.54,454.88 866.1,453.65 874.67,452.11 883.23,450.45 891.79,448.32 900.36,445.84 908.92,443.51 917.48,441.73 926.05,440.24 934.61,438.89 943.17,437.61 951.74,436.25 960.3,434.83 968.86,433.66 977.43,433.05 985.99,432.77 994.56,432.71 1003.12,432.84 1011.68,433.02 1020.25,433.1 1028.81,433.02 1037.37,432.82 1045.94,432.54 1054.5,431.98 1063.06,431.18 1071.63,430.32 1080.19,429.27 1088.75,428.19 1097.32,427.28 1105.88,426.37 1114.44,425.76 1123.01,425.77 1131.57,426.12 1140.13,426.98 1148.7,429.83 1157.26,433.09 1165.83,436.12 1174.39,437.55 1182.95,439.29 1191.52,442.46 1200.08,445.55 1208.64,448.55 1217.21,451.61 1225.77,454.55 1234.33,457.07 1242.9,459.76 1251.46,462.97 1260.02,465.28 1268.59,466.91 1277.15,467.92 1285.71,468.7 1294.28,469.48 1302.84,470.51 1311.4,472.3 1319.97,473.85 1328.53,475.1 1337.1,476.57 1345.66,478.39 1354.22,481.13 1362.79,484.41 1371.35,488.01 1379.91,491.11 1388.48,493.66 1397.04,495.64 1405.6,497.24 1414.17,498.51 1422.73,499.94 1431.29,502.41 1439.86,505.24 1448.42,508.25 1456.98,511.51 1465.55,514.97 1474.11,518.3 1482.67,521.55 1491.24,524.65 1499.8,527.68 1508.37,531 1516.93,535.32 1525.49,539.45 1534.06,542.29 1542.62,544.68 1551.18,546.89 1559.75,548.99 1568.31,551.27 1576.87,553.67 1585.44,556.28 1594,559.06 1602.56,561.7 1611.13,564.23 1619.69,567 1628.25,570.04 1636.82,573.07 1645.38,576.08 1653.94,578.9 1662.51,581.43 1671.07,584.09 1679.64,587.13 1688.2,590.09 1696.76,592.56 1705.33,595.25 1713.89,598.93 1722.45,603.01 1731.02,606.99 1739.58,610.73 1748.14,613.54 1756.71,615.98 1765.27,618.8 1773.83,621.86 1782.4,625.16 1790.96,628.68 1799.52,631.84 1808.09,634.72 1816.65,637.9 1825.21,641.43 1833.78,644.79 1842.34,648.08 1850.91,650.34 1859.47,651.64 1868.03,652.89 1876.6,654.41 1885.16,655.1 1893.72,654.63 1902.29,654.2 1910.85,654.61 1919.41,655.5 1927.98,656.41 1936.54,657.37 1945.1,658.45 1953.67,659.6" stroke="#f59a12" stroke-width="4"/>
</g>
<g clip-path="url(#cmain)" fill="none">
<line x1="197.3" y1="667.1" x2="394.6" y2="584.1" stroke="#3652c8" stroke-width="2"/>
<line x1="219.1" y1="726.7" x2="412" y2="612.9" stroke="#3652c8" stroke-width="2"/>
<line x1="916.6" y1="305" x2="1242.8" y2="371.2" stroke="#3652c8" stroke-width="2"/>
<line x1="976.5" y1="493" x2="1242.8" y2="429.3" stroke="#3652c8" stroke-width="2"/>
<line x1="1148" y1="440.4" x2="1679.6" y2="612.2" stroke="#3652c8" stroke-width="2"/>
<line x1="1121.4" y1="615.3" x2="1795.8" y2="829.4" stroke="#3652c8" stroke-width="2"/>
</g>
<line x1="10.5" y1="720.5" x2="2042" y2="720.5" stroke="#8a5058" stroke-width="1.2" stroke-dasharray="1 2" shape-rendering="crispEdges"/>
<g clip-path="url(#cmain)">
<line x1="9.5" y1="645" x2="9.5" y2="688" stroke="#a04654" stroke-width="1" shape-rendering="crispEdges"/>
<rect x="6.15" y="648" width="6.7" height="38" fill="#f23645"/>
<line x1="18.5" y1="661.3" x2="18.5" y2="707.1" stroke="#3f8076" stroke-width="1" shape-rendering="crispEdges"/>
<rect x="15.15" y="673" width="6.7" height="13" fill="#089981"/>
<line x1="26.5" y1="668" x2="26.5" y2="690.8" stroke="#3f8076" stroke-width="1" shape-rendering="crispEdges"/>
<rect x="23.15" y="671" width="6.7" height="3" fill="#089981"/>
<line x1="35.5" y1="662.1" x2="35.5" y2="686.5" stroke="#3f8076" stroke-width="1" shape-rendering="crispEdges"/>
<rect x="32.15" y="665" width="6.7" height="7" fill="#089981"/>
<line x1="44.5" y1="634" x2="44.5" y2="668.8" stroke="#3f8076" stroke-width="1" shape-rendering="crispEdges"/>
<rect x="41.15" y="647" width="6.7" height="19" fill="#089981"/>
<line x1="52.5" y1="639.7" x2="52.5" y2="665" stroke="#a04654" stroke-width="1" shape-rendering="crispEdges"/>
<rect x="49.15" y="647" width="6.7" height="17" fill="#f23645"/>
<line x1="61.5" y1="653.9" x2="61.5" y2="714.9" stroke="#a04654" stroke-width="1" shape-rendering="crispEdges"/>
<rect x="58.15" y="663" width="6.7" height="40" fill="#f23645"/>
<line x1="69.5" y1="667.4" x2="69.5" y2="706.4" stroke="#3f8076" stroke-width="1" shape-rendering="crispEdges"/>
<rect x="66.15" y="678" width="6.7" height="25" fill="#089981"/>
<line x1="78.5" y1="667.4" x2="78.5" y2="682.7" stroke="#3f8076" stroke-width="1" shape-rendering="crispEdges"/>
<rect x="75.15" y="672" width="6.7" height="6" fill="#089981"/>
<line x1="86.5" y1="628.4" x2="86.5" y2="675.6" stroke="#3f8076" stroke-width="1" shape-rendering="crispEdges"/>
<rect x="83.15" y="639" width="6.7" height="34" fill="#089981"/>
<line x1="95.5" y1="617" x2="95.5" y2="654.6" stroke="#3f8076" stroke-width="1" shape-rendering="crispEdges"/>
<rect x="92.15" y="620" width="6.7" height="20" fill="#089981"/>
<line x1="103.5" y1="617" x2="103.5" y2="641.1" stroke="#a04654" stroke-width="1" shape-rendering="crispEdges"/>
<rect x="100.15" y="620" width="6.7" height="6" fill="#f23645"/>
<line x1="112.5" y1="613.9" x2="112.5" y2="644.3" stroke="#a04654" stroke-width="1" shape-rendering="crispEdges"/>
<rect x="109.15" y="625" width="6.7" height="14" fill="#f23645"/>
<line x1="121.5" y1="637.2" x2="121.5" y2="673.8" stroke="#a04654" stroke-width="1" shape-rendering="crispEdges"/>
<rect x="118.15" y="638" width="6.7" height="30" fill="#f23645"/>
<line x1="129.5" y1="667.1" x2="129.5" y2="705.7" stroke="#a04654" stroke-width="1" shape-rendering="crispEdges"/>
<rect x="126.15" y="667" width="6.7" height="17" fill="#f23645"/>
<line x1="138.5" y1="670.9" x2="138.5" y2="695.7" stroke="#a04654" stroke-width="1" shape-rendering="crispEdges"/>
<rect x="135.15" y="683" width="6.7" height="3" fill="#f23645"/>
<line x1="146.5" y1="672.3" x2="146.5" y2="686.5" stroke="#3f8076" stroke-width="1" shape-rendering="crispEdges"/>
<rect x="143.15" y="676" width="6.7" height="10" fill="#089981"/>
<line x1="155.5" y1="613.9" x2="155.5" y2="680.9" stroke="#3f8076" stroke-width="1" shape-rendering="crispEdges"/>
<rect x="152.15" y="650" width="6.7" height="27" fill="#089981"/>
<line x1="163.5" y1="643.3" x2="163.5" y2="684.8" stroke="#a04654" stroke-width="1" shape-rendering="crispEdges"/>
<rect x="160.15" y="650" width="6.7" height="28" fill="#f23645"/>
<line x1="172.5" y1="670.9" x2="172.5" y2="692.9" stroke="#3f8076" stroke-width="1" shape-rendering="crispEdges"/>
<rect x="169.15" y="674" width="6.7" height="4" fill="#089981"/>
<line x1="181.5" y1="669.3" x2="181.5" y2="683.8" stroke="#a04654" stroke-width="1" shape-rendering="crispEdges"/>
<rect x="178.15" y="674" width="6.7" height="2" fill="#f23645"/>
<line x1="189.5" y1="671.3" x2="189.5" y2="704.3" stroke="#a04654" stroke-width="1" shape-rendering="crispEdges"/>
<rect x="186.15" y="676" width="6.7" height="17" fill="#f23645"/>
<line x1="198.5" y1="684.2" x2="198.5" y2="735.5" stroke="#a04654" stroke-width="1" shape-rendering="crispEdges"/>
<rect x="195.15" y="693" width="6.7" height="21" fill="#f23645"/>
<line x1="206.5" y1="704.3" x2="206.5" y2="768.5" stroke="#a04654" stroke-width="1" shape-rendering="crispEdges"/>
<rect x="203.15" y="713" width="6.7" height="17" fill="#f23645"/>
<line x1="215.5" y1="674.2" x2="215.5" y2="749.5" stroke="#3f8076" stroke-width="1" shape-rendering="crispEdges"/>
<rect x="212.15" y="679" width="6.7" height="51" fill="#089981"/>
<line x1="223.5" y1="658.5" x2="223.5" y2="687.8" stroke="#3f8076" stroke-width="1" shape-rendering="crispEdges"/>
<rect x="220.15" y="667" width="6.7" height="13" fill="#089981"/>
<line x1="232.5" y1="653.6" x2="232.5" y2="674.6" stroke="#a04654" stroke-width="1" shape-rendering="crispEdges"/>
<rect x="229.15" y="668" width="6.7" height="2" fill="#f23645"/>
<line x1="240.5" y1="659.3" x2="240.5" y2="700.7" stroke="#a04654" stroke-width="1" shape-rendering="crispEdges"/>
<rect x="237.15" y="669" width="6.7" height="31" fill="#f23645"/>
<line x1="249.5" y1="680" x2="249.5" y2="711.5" stroke="#3f8076" stroke-width="1" shape-rendering="crispEdges"/>
<rect x="246.15" y="685" width="6.7" height="13" fill="#089981"/>
<line x1="258.5" y1="661.3" x2="258.5" y2="687.8" stroke="#3f8076" stroke-width="1" shape-rendering="crispEdges"/>
<rect x="255.15" y="669" width="6.7" height="17" fill="#089981"/>
<line x1="266.5" y1="656" x2="266.5" y2="672.6" stroke="#3f8076" stroke-width="1" shape-rendering="crispEdges"/>
<rect x="263.15" y="661" width="6.7" height="9" fill="#089981"/>
<line x1="275.5" y1="617.2" x2="275.5" y2="675.6" stroke="#3f8076" stroke-width="1" shape-rendering="crispEdges"/>
<rect x="272.15" y="650" width="6.7" height="11" fill="#089981"/>
<line x1="283.5" y1="644.5" x2="283.5" y2="682.5" stroke="#a04654" stroke-width="1" shape-rendering="crispEdges"/>
<rect x="280.15" y="650" width="6.7" height="25" fill="#f23645"/>
<line x1="292.5" y1="630.4" x2="292.5" y2="678.9" stroke="#3f8076" stroke-width="1" shape-rendering="crispEdges"/>
<rect x="289.15" y="651" width="6.7" height="24" fill="#089981"/>
<line x1="300.5" y1="622.6" x2="300.5" y2="654.7" stroke="#3f8076" stroke-width="1" shape-rendering="crispEdges"/>
<rect x="297.15" y="643" width="6.7" height="8" fill="#089981"/>
<line x1="309.5" y1="639.2" x2="309.5" y2="665.1" stroke="#a04654" stroke-width="1" shape-rendering="crispEdges"/>
<rect x="306.15" y="643" width="6.7" height="13" fill="#f23645"/>
<line x1="318.5" y1="651.4" x2="318.5" y2="662.7" stroke="#a04654" stroke-width="1" shape-rendering="crispEdges"/>
<rect x="315.15" y="656" width="6.7" height="1" fill="#a04654"/>
<line x1="326.5" y1="631.2" x2="326.5" y2="659.3" stroke="#3f8076" stroke-width="1" shape-rendering="crispEdges"/>
<rect x="323.15" y="638" width="6.7" height="20" fill="#089981"/>
<line x1="335.5" y1="608.4" x2="335.5" y2="643.6" stroke="#a04654" stroke-width="1" shape-rendering="crispEdges"/>
<rect x="332.15" y="638" width="6.7" height="1" fill="#a04654"/>
<line x1="343.5" y1="619.3" x2="343.5" y2="645.8" stroke="#3f8076" stroke-width="1" shape-rendering="crispEdges"/>
<rect x="340.15" y="623" width="6.7" height="16" fill="#089981"/>
<line x1="352.5" y1="581.5" x2="352.5" y2="627.8" stroke="#3f8076" stroke-width="1" shape-rendering="crispEdges"/>
<rect x="349.15" y="590" width="6.7" height="34" fill="#089981"/>
<line x1="360.5" y1="530.2" x2="360.5" y2="594" stroke="#3f8076" stroke-width="1" shape-rendering="crispEdges"/>
<rect x="357.15" y="538" width="6.7" height="52" fill="#089981"/>
<line x1="369.5" y1="382" x2="369.5" y2="549.8" stroke="#3f8076" stroke-width="1" shape-rendering="crispEdges"/>
<rect x="366.15" y="470" width="6.7" height="68" fill="#089981"/>
<line x1="377.5" y1="429" x2="377.5" y2="495.9" stroke="#3f8076" stroke-width="1" shape-rendering="crispEdges"/>
<rect x="374.15" y="468" width="6.7" height="3" fill="#089981"/>
<line x1="386.5" y1="411" x2="386.5" y2="473.6" stroke="#3f8076" stroke-width="1" shape-rendering="crispEdges"/>
<rect x="383.15" y="433" width="6.7" height="35" fill="#089981"/>
<line x1="395.5" y1="361" x2="395.5" y2="437.5" stroke="#3f8076" stroke-width="1" shape-rendering="crispEdges"/>
<rect x="392.15" y="388" width="6.7" height="46" fill="#089981"/>
<line x1="403.5" y1="388.2" x2="403.5" y2="444.4" stroke="#a04654" stroke-width="1" shape-rendering="crispEdges"/>
<rect x="400.15" y="388" width="6.7" height="16" fill="#f23645"/>
<line x1="412.5" y1="337.1" x2="412.5" y2="417.4" stroke="#3f8076" stroke-width="1" shape-rendering="crispEdges"/>
<rect x="409.15" y="360" width="6.7" height="44" fill="#089981"/>
<line x1="420.5" y1="174.4" x2="420.5" y2="377.7" stroke="#3f8076" stroke-width="1" shape-rendering="crispEdges"/>
<rect x="417.15" y="199" width="6.7" height="161" fill="#089981"/>
<line x1="429.5" y1="134.2" x2="429.5" y2="248.9" stroke="#a04654" stroke-width="1" shape-rendering="crispEdges"/>
<rect x="426.15" y="199" width="6.7" height="25" fill="#f23645"/>
<line x1="437.5" y1="196.9" x2="437.5" y2="244.9" stroke="#3f8076" stroke-width="1" shape-rendering="crispEdges"/>
<rect x="434.15" y="219" width="6.7" height="5" fill="#089981"/>
<line x1="446.5" y1="170.8" x2="446.5" y2="233" stroke="#3f8076" stroke-width="1" shape-rendering="crispEdges"/>
<rect x="443.15" y="209" width="6.7" height="11" fill="#089981"/>
<line x1="455.5" y1="137.7" x2="455.5" y2="224.5" stroke="#3f8076" stroke-width="1" shape-rendering="crispEdges"/>
<rect x="452.15" y="174" width="6.7" height="36" fill="#089981"/>
<line x1="463.5" y1="163" x2="463.5" y2="219.8" stroke="#3f8076" stroke-width="1" shape-rendering="crispEdges"/>
<rect x="460.15" y="174" width="6.7" height="1" fill="#3f8076"/>
<line x1="472.5" y1="173.9" x2="472.5" y2="365.9" stroke="#a04654" stroke-width="1" shape-rendering="crispEdges"/>
<rect x="469.15" y="174" width="6.7" height="134" fill="#f23645"/>
<line x1="480.5" y1="277.2" x2="480.5" y2="388.4" stroke="#a04654" stroke-width="1" shape-rendering="crispEdges"/>
<rect x="477.15" y="307" width="6.7" height="15" fill="#f23645"/>
<line x1="489.5" y1="315.1" x2="489.5" y2="374.2" stroke="#a04654" stroke-width="1" shape-rendering="crispEdges"/>
<rect x="486.15" y="322" width="6.7" height="1" fill="#a04654"/>
<line x1="497.5" y1="294.5" x2="497.5" y2="334" stroke="#3f8076" stroke-width="1" shape-rendering="crispEdges"/>
<rect x="494.15" y="313" width="6.7" height="10" fill="#089981"/>
<line x1="506.5" y1="282.7" x2="506.5" y2="316.3" stroke="#3f8076" stroke-width="1" shape-rendering="crispEdges"/>
<rect x="503.15" y="287" width="6.7" height="27" fill="#089981"/>
<line x1="514.5" y1="252.8" x2="514.5" y2="333.7" stroke="#a04654" stroke-width="1" shape-rendering="crispEdges"/>
<rect x="511.15" y="287" width="6.7" height="43" fill="#f23645"/>
<line x1="523.5" y1="306" x2="523.5" y2="353.5" stroke="#3f8076" stroke-width="1" shape-rendering="crispEdges"/>
<rect x="520.15" y="327" width="6.7" height="3" fill="#089981"/>
<line x1="532.5" y1="315.2" x2="532.5" y2="372.6" stroke="#a04654" stroke-width="1" shape-rendering="crispEdges"/>
<rect x="529.15" y="327" width="6.7" height="12" fill="#f23645"/>
<line x1="540.5" y1="309.1" x2="540.5" y2="368.5" stroke="#a04654" stroke-width="1" shape-rendering="crispEdges"/>
<rect x="537.15" y="338" width="6.7" height="28" fill="#f23645"/>
<line x1="549.5" y1="352.1" x2="549.5" y2="412.5" stroke="#a04654" stroke-width="1" shape-rendering="crispEdges"/>
<rect x="546.15" y="365" width="6.7" height="23" fill="#f23645"/>
<line x1="557.5" y1="366" x2="557.5" y2="467.8" stroke="#a04654" stroke-width="1" shape-rendering="crispEdges"/>
<rect x="554.15" y="387" width="6.7" height="71" fill="#f23645"/>
<line x1="566.5" y1="387.5" x2="566.5" y2="471.5" stroke="#3f8076" stroke-width="1" shape-rendering="crispEdges"/>
<rect x="563.15" y="392" width="6.7" height="66" fill="#089981"/>
<line x1="574.5" y1="341.2" x2="574.5" y2="397.8" stroke="#3f8076" stroke-width="1" shape-rendering="crispEdges"/>
<rect x="571.15" y="347" width="6.7" height="46" fill="#089981"/>
<line x1="583.5" y1="334.3" x2="583.5" y2="403.9" stroke="#a04654" stroke-width="1" shape-rendering="crispEdges"/>
<rect x="580.15" y="347" width="6.7" height="41" fill="#f23645"/>
<line x1="592.5" y1="367" x2="592.5" y2="408.4" stroke="#3f8076" stroke-width="1" shape-rendering="crispEdges"/>
<rect x="589.15" y="377" width="6.7" height="11" fill="#089981"/>
<line x1="600.5" y1="252.4" x2="600.5" y2="385.5" stroke="#3f8076" stroke-width="1" shape-rendering="crispEdges"/>
<rect x="597.15" y="257" width="6.7" height="121" fill="#089981"/>
<line x1="609.5" y1="234.7" x2="609.5" y2="298.8" stroke="#a04654" stroke-width="1" shape-rendering="crispEdges"/>
<rect x="606.15" y="257" width="6.7" height="14" fill="#f23645"/>
<line x1="617.5" y1="246.6" x2="617.5" y2="297.8" stroke="#a04654" stroke-width="1" shape-rendering="crispEdges"/>
<rect x="614.15" y="270" width="6.7" height="22" fill="#f23645"/>
<line x1="626.5" y1="272.2" x2="626.5" y2="317.9" stroke="#a04654" stroke-width="1" shape-rendering="crispEdges"/>
<rect x="623.15" y="291" width="6.7" height="15" fill="#f23645"/>
<line x1="634.5" y1="251.7" x2="634.5" y2="331" stroke="#a04654" stroke-width="1" shape-rendering="crispEdges"/>
<rect x="631.15" y="306" width="6.7" height="21" fill="#f23645"/>
<line x1="643.5" y1="262" x2="643.5" y2="335.7" stroke="#3f8076" stroke-width="1" shape-rendering="crispEdges"/>
<rect x="640.15" y="276" width="6.7" height="51" fill="#089981"/>
<line x1="652.5" y1="251.7" x2="652.5" y2="299.9" stroke="#3f8076" stroke-width="1" shape-rendering="crispEdges"/>
<rect x="649.15" y="274" width="6.7" height="2" fill="#089981"/>
<line x1="660.5" y1="246.2" x2="660.5" y2="375.6" stroke="#a04654" stroke-width="1" shape-rendering="crispEdges"/>
<rect x="657.15" y="274" width="6.7" height="72" fill="#f23645"/>
<line x1="669.5" y1="322" x2="669.5" y2="371.5" stroke="#a04654" stroke-width="1" shape-rendering="crispEdges"/>
<rect x="666.15" y="344" width="6.7" height="1" fill="#a04654"/>
<line x1="677.5" y1="316.9" x2="677.5" y2="346.4" stroke="#3f8076" stroke-width="1" shape-rendering="crispEdges"/>
<rect x="674.15" y="335" width="6.7" height="11" fill="#089981"/>
<line x1="686.5" y1="320.2" x2="686.5" y2="344.5" stroke="#a04654" stroke-width="1" shape-rendering="crispEdges"/>
<rect x="683.15" y="335" width="6.7" height="7" fill="#f23645"/>
<line x1="694.5" y1="338.1" x2="694.5" y2="394.3" stroke="#a04654" stroke-width="1" shape-rendering="crispEdges"/>
<rect x="691.15" y="342" width="6.7" height="10" fill="#f23645"/>
<line x1="703.5" y1="344.5" x2="703.5" y2="427.4" stroke="#a04654" stroke-width="1" shape-rendering="crispEdges"/>
<rect x="700.15" y="351" width="6.7" height="74" fill="#f23645"/>
<line x1="711.5" y1="377.2" x2="711.5" y2="438.7" stroke="#3f8076" stroke-width="1" shape-rendering="crispEdges"/>
<rect x="708.15" y="391" width="6.7" height="34" fill="#089981"/>
<line x1="720.5" y1="388.6" x2="720.5" y2="430.5" stroke="#a04654" stroke-width="1" shape-rendering="crispEdges"/>
<rect x="717.15" y="391" width="6.7" height="37" fill="#f23645"/>
<line x1="729.5" y1="335.5" x2="729.5" y2="451.6" stroke="#3f8076" stroke-width="1" shape-rendering="crispEdges"/>
<rect x="726.15" y="346" width="6.7" height="82" fill="#089981"/>
<line x1="737.5" y1="346.2" x2="737.5" y2="383.5" stroke="#a04654" stroke-width="1" shape-rendering="crispEdges"/>
<rect x="734.15" y="346" width="6.7" height="10" fill="#f23645"/>
<line x1="746.5" y1="327.1" x2="746.5" y2="377.6" stroke="#a04654" stroke-width="1" shape-rendering="crispEdges"/>
<rect x="743.15" y="356" width="6.7" height="9" fill="#f23645"/>
<line x1="754.5" y1="355.2" x2="754.5" y2="437.5" stroke="#a04654" stroke-width="1" shape-rendering="crispEdges"/>
<rect x="751.15" y="364" width="6.7" height="62" fill="#f23645"/>
<line x1="763.5" y1="344.5" x2="763.5" y2="428.5" stroke="#3f8076" stroke-width="1" shape-rendering="crispEdges"/>
<rect x="760.15" y="369" width="6.7" height="57" fill="#089981"/>
<line x1="771.5" y1="357.5" x2="771.5" y2="386.7" stroke="#a04654" stroke-width="1" shape-rendering="crispEdges"/>
<rect x="768.15" y="369" width="6.7" height="17" fill="#f23645"/>
<line x1="780.5" y1="364.3" x2="780.5" y2="393.3" stroke="#a04654" stroke-width="1" shape-rendering="crispEdges"/>
<rect x="777.15" y="385" width="6.7" height="1" fill="#a04654"/>
<line x1="789.5" y1="382.3" x2="789.5" y2="456.1" stroke="#a04654" stroke-width="1" shape-rendering="crispEdges"/>
<rect x="786.15" y="385" width="6.7" height="55" fill="#f23645"/>
<line x1="797.5" y1="433.2" x2="797.5" y2="459.2" stroke="#a04654" stroke-width="1" shape-rendering="crispEdges"/>
<rect x="794.15" y="439" width="6.7" height="1" fill="#a04654"/>
<line x1="806.5" y1="421.1" x2="806.5" y2="456.1" stroke="#a04654" stroke-width="1" shape-rendering="crispEdges"/>
<rect x="803.15" y="439" width="6.7" height="17" fill="#f23645"/>
<line x1="814.5" y1="432.4" x2="814.5" y2="482.8" stroke="#a04654" stroke-width="1" shape-rendering="crispEdges"/>
<rect x="811.15" y="455" width="6.7" height="7" fill="#f23645"/>
<line x1="823.5" y1="423" x2="823.5" y2="464.7" stroke="#3f8076" stroke-width="1" shape-rendering="crispEdges"/>
<rect x="820.15" y="423" width="6.7" height="39" fill="#089981"/>
<line x1="831.5" y1="413.8" x2="831.5" y2="441.5" stroke="#a04654" stroke-width="1" shape-rendering="crispEdges"/>
<rect x="828.15" y="423" width="6.7" height="7" fill="#f23645"/>
<line x1="840.5" y1="422.6" x2="840.5" y2="451.6" stroke="#a04654" stroke-width="1" shape-rendering="crispEdges"/>
<rect x="837.15" y="430" width="6.7" height="18" fill="#f23645"/>
<line x1="848.5" y1="415.1" x2="848.5" y2="452.9" stroke="#3f8076" stroke-width="1" shape-rendering="crispEdges"/>
<rect x="845.15" y="441" width="6.7" height="7" fill="#089981"/>
<line x1="857.5" y1="435.3" x2="857.5" y2="448.4" stroke="#a04654" stroke-width="1" shape-rendering="crispEdges"/>
<rect x="854.15" y="441" width="6.7" height="1" fill="#a04654"/>
<line x1="866.5" y1="399.1" x2="866.5" y2="442.6" stroke="#3f8076" stroke-width="1" shape-rendering="crispEdges"/>
<rect x="863.15" y="418" width="6.7" height="25" fill="#089981"/>
<line x1="874.5" y1="375.1" x2="874.5" y2="422.7" stroke="#3f8076" stroke-width="1" shape-rendering="crispEdges"/>
<rect x="871.15" y="384" width="6.7" height="34" fill="#089981"/>
<line x1="883.5" y1="360.1" x2="883.5" y2="396.9" stroke="#a04654" stroke-width="1" shape-rendering="crispEdges"/>
<rect x="880.15" y="384" width="6.7" height="8" fill="#f23645"/>
<line x1="891.5" y1="365.3" x2="891.5" y2="396.9" stroke="#3f8076" stroke-width="1" shape-rendering="crispEdges"/>
<rect x="888.15" y="380" width="6.7" height="12" fill="#089981"/>
<line x1="900.5" y1="356.2" x2="900.5" y2="390.6" stroke="#3f8076" stroke-width="1" shape-rendering="crispEdges"/>
<rect x="897.15" y="359" width="6.7" height="21" fill="#089981"/>
<line x1="908.5" y1="323.1" x2="908.5" y2="366.9" stroke="#3f8076" stroke-width="1" shape-rendering="crispEdges"/>
<rect x="905.15" y="335" width="6.7" height="24" fill="#089981"/>
<line x1="917.5" y1="304.5" x2="917.5" y2="340.8" stroke="#3f8076" stroke-width="1" shape-rendering="crispEdges"/>
<rect x="914.15" y="330" width="6.7" height="5" fill="#089981"/>
<line x1="926.5" y1="327" x2="926.5" y2="368.8" stroke="#a04654" stroke-width="1" shape-rendering="crispEdges"/>
<rect x="923.15" y="330" width="6.7" height="33" fill="#f23645"/>
<line x1="934.5" y1="349.1" x2="934.5" y2="389.6" stroke="#a04654" stroke-width="1" shape-rendering="crispEdges"/>
<rect x="931.15" y="363" width="6.7" height="11" fill="#f23645"/>
<line x1="943.5" y1="352.3" x2="943.5" y2="385.4" stroke="#3f8076" stroke-width="1" shape-rendering="crispEdges"/>
<rect x="940.15" y="360" width="6.7" height="14" fill="#089981"/>
<line x1="951.5" y1="334.1" x2="951.5" y2="380.2" stroke="#3f8076" stroke-width="1" shape-rendering="crispEdges"/>
<rect x="948.15" y="343" width="6.7" height="18" fill="#089981"/>
<line x1="960.5" y1="323.1" x2="960.5" y2="352.7" stroke="#a04654" stroke-width="1" shape-rendering="crispEdges"/>
<rect x="957.15" y="343" width="6.7" height="5" fill="#f23645"/>
<line x1="968.5" y1="339.2" x2="968.5" y2="380.6" stroke="#a04654" stroke-width="1" shape-rendering="crispEdges"/>
<rect x="965.15" y="347" width="6.7" height="31" fill="#f23645"/>
<line x1="977.5" y1="370.4" x2="977.5" y2="385.4" stroke="#a04654" stroke-width="1" shape-rendering="crispEdges"/>
<rect x="974.15" y="377" width="6.7" height="6" fill="#f23645"/>
<line x1="985.5" y1="368" x2="985.5" y2="390.6" stroke="#a04654" stroke-width="1" shape-rendering="crispEdges"/>
<rect x="982.15" y="382" width="6.7" height="3" fill="#f23645"/>
<line x1="994.5" y1="384.3" x2="994.5" y2="482.3" stroke="#a04654" stroke-width="1" shape-rendering="crispEdges"/>
<rect x="991.15" y="384" width="6.7" height="44" fill="#f23645"/>
<line x1="1003.5" y1="411.1" x2="1003.5" y2="445.3" stroke="#a04654" stroke-width="1" shape-rendering="crispEdges"/>
<rect x="1000.15" y="428" width="6.7" height="9" fill="#f23645"/>
<line x1="1011.5" y1="374.8" x2="1011.5" y2="449.2" stroke="#3f8076" stroke-width="1" shape-rendering="crispEdges"/>
<rect x="1008.15" y="400" width="6.7" height="37" fill="#089981"/>
<line x1="1020.5" y1="393.2" x2="1020.5" y2="472.5" stroke="#a04654" stroke-width="1" shape-rendering="crispEdges"/>
<rect x="1017.15" y="400" width="6.7" height="66" fill="#f23645"/>
<line x1="1028.5" y1="442.9" x2="1028.5" y2="482.3" stroke="#3f8076" stroke-width="1" shape-rendering="crispEdges"/>
<rect x="1025.15" y="452" width="6.7" height="14" fill="#089981"/>
<line x1="1037.5" y1="435.5" x2="1037.5" y2="459.5" stroke="#3f8076" stroke-width="1" shape-rendering="crispEdges"/>
<rect x="1034.15" y="444" width="6.7" height="9" fill="#089981"/>
<line x1="1045.5" y1="420.9" x2="1045.5" y2="457.5" stroke="#3f8076" stroke-width="1" shape-rendering="crispEdges"/>
<rect x="1042.15" y="421" width="6.7" height="23" fill="#089981"/>
<line x1="1054.5" y1="399.6" x2="1054.5" y2="428.9" stroke="#3f8076" stroke-width="1" shape-rendering="crispEdges"/>
<rect x="1051.15" y="417" width="6.7" height="5" fill="#089981"/>
<line x1="1063.5" y1="407.7" x2="1063.5" y2="439.9" stroke="#a04654" stroke-width="1" shape-rendering="crispEdges"/>
<rect x="1060.15" y="417" width="6.7" height="13" fill="#f23645"/>
<line x1="1071.5" y1="387.4" x2="1071.5" y2="439.9" stroke="#3f8076" stroke-width="1" shape-rendering="crispEdges"/>
<rect x="1068.15" y="392" width="6.7" height="38" fill="#089981"/>
<line x1="1080.5" y1="338.5" x2="1080.5" y2="394.7" stroke="#3f8076" stroke-width="1" shape-rendering="crispEdges"/>
<rect x="1077.15" y="359" width="6.7" height="34" fill="#089981"/>
<line x1="1088.5" y1="340.3" x2="1088.5" y2="370.3" stroke="#3f8076" stroke-width="1" shape-rendering="crispEdges"/>
<rect x="1085.15" y="359" width="6.7" height="1" fill="#3f8076"/>
<line x1="1097.5" y1="353.9" x2="1097.5" y2="394" stroke="#a04654" stroke-width="1" shape-rendering="crispEdges"/>
<rect x="1094.15" y="359" width="6.7" height="27" fill="#f23645"/>
<line x1="1105.5" y1="347.6" x2="1105.5" y2="392.3" stroke="#3f8076" stroke-width="1" shape-rendering="crispEdges"/>
<rect x="1102.15" y="383" width="6.7" height="1" fill="#3f8076"/>
<line x1="1114.5" y1="354.9" x2="1114.5" y2="389.1" stroke="#3f8076" stroke-width="1" shape-rendering="crispEdges"/>
<rect x="1111.15" y="378" width="6.7" height="6" fill="#089981"/>
<line x1="1123.5" y1="373.5" x2="1123.5" y2="427.2" stroke="#a04654" stroke-width="1" shape-rendering="crispEdges"/>
<rect x="1120.15" y="378" width="6.7" height="49" fill="#f23645"/>
<line x1="1131.5" y1="401.3" x2="1131.5" y2="434.5" stroke="#3f8076" stroke-width="1" shape-rendering="crispEdges"/>
<rect x="1128.15" y="417" width="6.7" height="10" fill="#089981"/>
<line x1="1140.5" y1="417.4" x2="1140.5" y2="455.1" stroke="#a04654" stroke-width="1" shape-rendering="crispEdges"/>
<rect x="1137.15" y="417" width="6.7" height="28" fill="#f23645"/>
<line x1="1148.5" y1="432.6" x2="1148.5" y2="1006.7" stroke="#a04654" stroke-width="1" shape-rendering="crispEdges"/>
<rect x="1145.15" y="445" width="6.7" height="157" fill="#f23645"/>
<line x1="1157.5" y1="552.8" x2="1157.5" y2="625.6" stroke="#3f8076" stroke-width="1" shape-rendering="crispEdges"/>
<rect x="1154.15" y="598" width="6.7" height="4" fill="#089981"/>
<line x1="1165.5" y1="524.2" x2="1165.5" y2="621.9" stroke="#3f8076" stroke-width="1" shape-rendering="crispEdges"/>
<rect x="1162.15" y="545" width="6.7" height="54" fill="#089981"/>
<line x1="1174.5" y1="502.9" x2="1174.5" y2="548.6" stroke="#3f8076" stroke-width="1" shape-rendering="crispEdges"/>
<rect x="1171.15" y="518" width="6.7" height="27" fill="#089981"/>
<line x1="1182.5" y1="511.2" x2="1182.5" y2="593.8" stroke="#a04654" stroke-width="1" shape-rendering="crispEdges"/>
<rect x="1179.15" y="518" width="6.7" height="36" fill="#f23645"/>
<line x1="1191.5" y1="538.8" x2="1191.5" y2="599.6" stroke="#a04654" stroke-width="1" shape-rendering="crispEdges"/>
<rect x="1188.15" y="554" width="6.7" height="34" fill="#f23645"/>
<line x1="1200.5" y1="566.9" x2="1200.5" y2="632.5" stroke="#a04654" stroke-width="1" shape-rendering="crispEdges"/>
<rect x="1197.15" y="587" width="6.7" height="30" fill="#f23645"/>
<line x1="1208.5" y1="591.1" x2="1208.5" y2="666.5" stroke="#a04654" stroke-width="1" shape-rendering="crispEdges"/>
<rect x="1205.15" y="617" width="6.7" height="13" fill="#f23645"/>
<line x1="1217.5" y1="594.1" x2="1217.5" y2="630.5" stroke="#3f8076" stroke-width="1" shape-rendering="crispEdges"/>
<rect x="1214.15" y="606" width="6.7" height="24" fill="#089981"/>
<line x1="1225.5" y1="583.8" x2="1225.5" y2="620.6" stroke="#3f8076" stroke-width="1" shape-rendering="crispEdges"/>
<rect x="1222.15" y="594" width="6.7" height="12" fill="#089981"/>
<line x1="1234.5" y1="536" x2="1234.5" y2="606.3" stroke="#3f8076" stroke-width="1" shape-rendering="crispEdges"/>
<rect x="1231.15" y="557" width="6.7" height="37" fill="#089981"/>
<line x1="1242.5" y1="543.3" x2="1242.5" y2="590.5" stroke="#a04654" stroke-width="1" shape-rendering="crispEdges"/>
<rect x="1239.15" y="557" width="6.7" height="27" fill="#f23645"/>
<line x1="1251.5" y1="577.3" x2="1251.5" y2="617.7" stroke="#a04654" stroke-width="1" shape-rendering="crispEdges"/>
<rect x="1248.15" y="583" width="6.7" height="22" fill="#f23645"/>
<line x1="1260.5" y1="581.9" x2="1260.5" y2="604.9" stroke="#3f8076" stroke-width="1" shape-rendering="crispEdges"/>
<rect x="1257.15" y="593" width="6.7" height="12" fill="#089981"/>
<line x1="1268.5" y1="549.8" x2="1268.5" y2="595.6" stroke="#3f8076" stroke-width="1" shape-rendering="crispEdges"/>
<rect x="1265.15" y="551" width="6.7" height="43" fill="#089981"/>
<line x1="1277.5" y1="499.1" x2="1277.5" y2="553.1" stroke="#3f8076" stroke-width="1" shape-rendering="crispEdges"/>
<rect x="1274.15" y="520" width="6.7" height="32" fill="#089981"/>
<line x1="1285.5" y1="496" x2="1285.5" y2="521.6" stroke="#3f8076" stroke-width="1" shape-rendering="crispEdges"/>
<rect x="1282.15" y="502" width="6.7" height="19" fill="#089981"/>
<line x1="1294.5" y1="483.4" x2="1294.5" y2="517.3" stroke="#a04654" stroke-width="1" shape-rendering="crispEdges"/>
<rect x="1291.15" y="502" width="6.7" height="4" fill="#f23645"/>
<line x1="1302.5" y1="486.1" x2="1302.5" y2="529.5" stroke="#a04654" stroke-width="1" shape-rendering="crispEdges"/>
<rect x="1299.15" y="506" width="6.7" height="11" fill="#f23645"/>
<line x1="1311.5" y1="495.2" x2="1311.5" y2="540.5" stroke="#a04654" stroke-width="1" shape-rendering="crispEdges"/>
<rect x="1308.15" y="517" width="6.7" height="21" fill="#f23645"/>
<line x1="1319.5" y1="520.2" x2="1319.5" y2="599" stroke="#a04654" stroke-width="1" shape-rendering="crispEdges"/>
<rect x="1316.15" y="537" width="6.7" height="41" fill="#f23645"/>
<line x1="1328.5" y1="535" x2="1328.5" y2="579.3" stroke="#3f8076" stroke-width="1" shape-rendering="crispEdges"/>
<rect x="1325.15" y="551" width="6.7" height="27" fill="#089981"/>
<line x1="1337.5" y1="545.8" x2="1337.5" y2="562.6" stroke="#a04654" stroke-width="1" shape-rendering="crispEdges"/>
<rect x="1334.15" y="551" width="6.7" height="2" fill="#f23645"/>
<line x1="1345.5" y1="535" x2="1345.5" y2="562.6" stroke="#3f8076" stroke-width="1" shape-rendering="crispEdges"/>
<rect x="1342.15" y="545" width="6.7" height="9" fill="#089981"/>
<line x1="1354.5" y1="543.3" x2="1354.5" y2="640.9" stroke="#a04654" stroke-width="1" shape-rendering="crispEdges"/>
<rect x="1351.15" y="545" width="6.7" height="80" fill="#f23645"/>
<line x1="1362.5" y1="603.9" x2="1362.5" y2="711.8" stroke="#a04654" stroke-width="1" shape-rendering="crispEdges"/>
<rect x="1359.15" y="624" width="6.7" height="39" fill="#f23645"/>
<line x1="1371.5" y1="600" x2="1371.5" y2="698.6" stroke="#3f8076" stroke-width="1" shape-rendering="crispEdges"/>
<rect x="1368.15" y="612" width="6.7" height="51" fill="#089981"/>
<line x1="1379.5" y1="585.1" x2="1379.5" y2="670.8" stroke="#a04654" stroke-width="1" shape-rendering="crispEdges"/>
<rect x="1376.15" y="612" width="6.7" height="48" fill="#f23645"/>
<line x1="1388.5" y1="601.1" x2="1388.5" y2="679.4" stroke="#3f8076" stroke-width="1" shape-rendering="crispEdges"/>
<rect x="1385.15" y="622" width="6.7" height="38" fill="#089981"/>
<line x1="1397.5" y1="613.2" x2="1397.5" y2="647.5" stroke="#a04654" stroke-width="1" shape-rendering="crispEdges"/>
<rect x="1394.15" y="622" width="6.7" height="10" fill="#f23645"/>
<line x1="1405.5" y1="593.1" x2="1405.5" y2="648.4" stroke="#3f8076" stroke-width="1" shape-rendering="crispEdges"/>
<rect x="1402.15" y="603" width="6.7" height="29" fill="#089981"/>
<line x1="1414.5" y1="525.7" x2="1414.5" y2="610.9" stroke="#3f8076" stroke-width="1" shape-rendering="crispEdges"/>
<rect x="1411.15" y="545" width="6.7" height="58" fill="#089981"/>
<line x1="1422.5" y1="530.3" x2="1422.5" y2="598.8" stroke="#a04654" stroke-width="1" shape-rendering="crispEdges"/>
<rect x="1419.15" y="545" width="6.7" height="50" fill="#f23645"/>
<line x1="1431.5" y1="573" x2="1431.5" y2="620.5" stroke="#a04654" stroke-width="1" shape-rendering="crispEdges"/>
<rect x="1428.15" y="594" width="6.7" height="1" fill="#a04654"/>
<line x1="1439.5" y1="545.1" x2="1439.5" y2="635.3" stroke="#a04654" stroke-width="1" shape-rendering="crispEdges"/>
<rect x="1436.15" y="595" width="6.7" height="24" fill="#f23645"/>
<line x1="1448.5" y1="612.5" x2="1448.5" y2="653.6" stroke="#a04654" stroke-width="1" shape-rendering="crispEdges"/>
<rect x="1445.15" y="619" width="6.7" height="29" fill="#f23645"/>
<line x1="1456.5" y1="626.2" x2="1456.5" y2="659.3" stroke="#a04654" stroke-width="1" shape-rendering="crispEdges"/>
<rect x="1453.15" y="648" width="6.7" height="2" fill="#f23645"/>
<line x1="1465.5" y1="635.3" x2="1465.5" y2="679.4" stroke="#a04654" stroke-width="1" shape-rendering="crispEdges"/>
<rect x="1462.15" y="650" width="6.7" height="8" fill="#f23645"/>
<line x1="1474.5" y1="625.1" x2="1474.5" y2="694.7" stroke="#a04654" stroke-width="1" shape-rendering="crispEdges"/>
<rect x="1471.15" y="658" width="6.7" height="20" fill="#f23645"/>
<line x1="1482.5" y1="649.1" x2="1482.5" y2="697" stroke="#3f8076" stroke-width="1" shape-rendering="crispEdges"/>
<rect x="1479.15" y="657" width="6.7" height="21" fill="#089981"/>
<line x1="1491.5" y1="657" x2="1491.5" y2="726.7" stroke="#a04654" stroke-width="1" shape-rendering="crispEdges"/>
<rect x="1488.15" y="657" width="6.7" height="39" fill="#f23645"/>
<line x1="1499.5" y1="682.6" x2="1499.5" y2="743.8" stroke="#a04654" stroke-width="1" shape-rendering="crispEdges"/>
<rect x="1496.15" y="696" width="6.7" height="40" fill="#f23645"/>
<line x1="1508.5" y1="725.1" x2="1508.5" y2="800.5" stroke="#a04654" stroke-width="1" shape-rendering="crispEdges"/>
<rect x="1505.15" y="736" width="6.7" height="18" fill="#f23645"/>
<line x1="1516.5" y1="748" x2="1516.5" y2="775.4" stroke="#3f8076" stroke-width="1" shape-rendering="crispEdges"/>
<rect x="1513.15" y="753" width="6.7" height="2" fill="#089981"/>
<line x1="1525.5" y1="705" x2="1525.5" y2="754.1" stroke="#3f8076" stroke-width="1" shape-rendering="crispEdges"/>
<rect x="1522.15" y="718" width="6.7" height="36" fill="#089981"/>
<line x1="1534.5" y1="631.9" x2="1534.5" y2="726.7" stroke="#3f8076" stroke-width="1" shape-rendering="crispEdges"/>
<rect x="1531.15" y="654" width="6.7" height="64" fill="#089981"/>
<line x1="1542.5" y1="640.2" x2="1542.5" y2="681.5" stroke="#a04654" stroke-width="1" shape-rendering="crispEdges"/>
<rect x="1539.15" y="654" width="6.7" height="10" fill="#f23645"/>
<line x1="1551.5" y1="644" x2="1551.5" y2="683.7" stroke="#3f8076" stroke-width="1" shape-rendering="crispEdges"/>
<rect x="1548.15" y="655" width="6.7" height="9" fill="#089981"/>
<line x1="1559.5" y1="651.1" x2="1559.5" y2="672.6" stroke="#a04654" stroke-width="1" shape-rendering="crispEdges"/>
<rect x="1556.15" y="655" width="6.7" height="9" fill="#f23645"/>
<line x1="1568.5" y1="636.2" x2="1568.5" y2="678.2" stroke="#a04654" stroke-width="1" shape-rendering="crispEdges"/>
<rect x="1565.15" y="664" width="6.7" height="8" fill="#f23645"/>
<line x1="1576.5" y1="655.1" x2="1576.5" y2="675.4" stroke="#3f8076" stroke-width="1" shape-rendering="crispEdges"/>
<rect x="1573.15" y="663" width="6.7" height="9" fill="#089981"/>
<line x1="1585.5" y1="658.4" x2="1585.5" y2="680.4" stroke="#a04654" stroke-width="1" shape-rendering="crispEdges"/>
<rect x="1582.15" y="663" width="6.7" height="17" fill="#f23645"/>
<line x1="1594.5" y1="678.2" x2="1594.5" y2="741.6" stroke="#a04654" stroke-width="1" shape-rendering="crispEdges"/>
<rect x="1591.15" y="680" width="6.7" height="46" fill="#f23645"/>
<line x1="1602.5" y1="670.5" x2="1602.5" y2="737.8" stroke="#3f8076" stroke-width="1" shape-rendering="crispEdges"/>
<rect x="1599.15" y="681" width="6.7" height="45" fill="#089981"/>
<line x1="1611.5" y1="657.2" x2="1611.5" y2="684.5" stroke="#3f8076" stroke-width="1" shape-rendering="crispEdges"/>
<rect x="1608.15" y="664" width="6.7" height="18" fill="#089981"/>
<line x1="1619.5" y1="658.4" x2="1619.5" y2="710.7" stroke="#a04654" stroke-width="1" shape-rendering="crispEdges"/>
<rect x="1616.15" y="664" width="6.7" height="37" fill="#f23645"/>
<line x1="1628.5" y1="695.3" x2="1628.5" y2="731.7" stroke="#a04654" stroke-width="1" shape-rendering="crispEdges"/>
<rect x="1625.15" y="701" width="6.7" height="24" fill="#f23645"/>
<line x1="1636.5" y1="718.4" x2="1636.5" y2="730.5" stroke="#a04654" stroke-width="1" shape-rendering="crispEdges"/>
<rect x="1633.15" y="724" width="6.7" height="2" fill="#f23645"/>
<line x1="1645.5" y1="696.4" x2="1645.5" y2="739.5" stroke="#3f8076" stroke-width="1" shape-rendering="crispEdges"/>
<rect x="1642.15" y="720" width="6.7" height="6" fill="#089981"/>
<line x1="1653.5" y1="691.1" x2="1653.5" y2="724.6" stroke="#3f8076" stroke-width="1" shape-rendering="crispEdges"/>
<rect x="1650.15" y="710" width="6.7" height="10" fill="#089981"/>
<line x1="1662.5" y1="672.6" x2="1662.5" y2="720.1" stroke="#3f8076" stroke-width="1" shape-rendering="crispEdges"/>
<rect x="1659.15" y="698" width="6.7" height="13" fill="#089981"/>
<line x1="1671.5" y1="696.4" x2="1671.5" y2="723.4" stroke="#a04654" stroke-width="1" shape-rendering="crispEdges"/>
<rect x="1668.15" y="698" width="6.7" height="23" fill="#f23645"/>
<line x1="1679.5" y1="715.6" x2="1679.5" y2="744.4" stroke="#a04654" stroke-width="1" shape-rendering="crispEdges"/>
<rect x="1676.15" y="721" width="6.7" height="4" fill="#f23645"/>
<line x1="1688.5" y1="719.3" x2="1688.5" y2="746.6" stroke="#a04654" stroke-width="1" shape-rendering="crispEdges"/>
<rect x="1685.15" y="724" width="6.7" height="10" fill="#f23645"/>
<line x1="1696.5" y1="718.9" x2="1696.5" y2="733.8" stroke="#3f8076" stroke-width="1" shape-rendering="crispEdges"/>
<rect x="1693.15" y="728" width="6.7" height="6" fill="#089981"/>
<line x1="1705.5" y1="725.1" x2="1705.5" y2="752.4" stroke="#a04654" stroke-width="1" shape-rendering="crispEdges"/>
<rect x="1702.15" y="728" width="6.7" height="16" fill="#f23645"/>
<line x1="1713.5" y1="731" x2="1713.5" y2="783.8" stroke="#a04654" stroke-width="1" shape-rendering="crispEdges"/>
<rect x="1710.15" y="744" width="6.7" height="30" fill="#f23645"/>
<line x1="1722.5" y1="755" x2="1722.5" y2="789.4" stroke="#3f8076" stroke-width="1" shape-rendering="crispEdges"/>
<rect x="1719.15" y="762" width="6.7" height="12" fill="#089981"/>
<line x1="1731.5" y1="741.1" x2="1731.5" y2="791.5" stroke="#a04654" stroke-width="1" shape-rendering="crispEdges"/>
<rect x="1728.15" y="762" width="6.7" height="25" fill="#f23645"/>
<line x1="1739.5" y1="759.8" x2="1739.5" y2="808.5" stroke="#a04654" stroke-width="1" shape-rendering="crispEdges"/>
<rect x="1736.15" y="786" width="6.7" height="20" fill="#f23645"/>
<line x1="1748.5" y1="765" x2="1748.5" y2="818.2" stroke="#3f8076" stroke-width="1" shape-rendering="crispEdges"/>
<rect x="1745.15" y="769" width="6.7" height="37" fill="#089981"/>
<line x1="1756.5" y1="751.1" x2="1756.5" y2="774.8" stroke="#3f8076" stroke-width="1" shape-rendering="crispEdges"/>
<rect x="1753.15" y="760" width="6.7" height="10" fill="#089981"/>
<line x1="1765.5" y1="754.1" x2="1765.5" y2="773.6" stroke="#a04654" stroke-width="1" shape-rendering="crispEdges"/>
<rect x="1762.15" y="760" width="6.7" height="4" fill="#f23645"/>
<line x1="1773.5" y1="755" x2="1773.5" y2="774.8" stroke="#a04654" stroke-width="1" shape-rendering="crispEdges"/>
<rect x="1770.15" y="764" width="6.7" height="8" fill="#f23645"/>
<line x1="1782.5" y1="769.1" x2="1782.5" y2="785.6" stroke="#a04654" stroke-width="1" shape-rendering="crispEdges"/>
<rect x="1779.15" y="771" width="6.7" height="11" fill="#f23645"/>
<line x1="1790.5" y1="780" x2="1790.5" y2="794.5" stroke="#a04654" stroke-width="1" shape-rendering="crispEdges"/>
<rect x="1787.15" y="782" width="6.7" height="4" fill="#f23645"/>
<line x1="1799.5" y1="776" x2="1799.5" y2="797.5" stroke="#a04654" stroke-width="1" shape-rendering="crispEdges"/>
<rect x="1796.15" y="786" width="6.7" height="12" fill="#f23645"/>
<line x1="1808.5" y1="778.1" x2="1808.5" y2="799.9" stroke="#3f8076" stroke-width="1" shape-rendering="crispEdges"/>
<rect x="1805.15" y="793" width="6.7" height="5" fill="#089981"/>
<line x1="1816.5" y1="780.5" x2="1816.5" y2="793.5" stroke="#3f8076" stroke-width="1" shape-rendering="crispEdges"/>
<rect x="1813.15" y="782" width="6.7" height="12" fill="#089981"/>
<line x1="1825.5" y1="780.5" x2="1825.5" y2="789" stroke="#a04654" stroke-width="1" shape-rendering="crispEdges"/>
<rect x="1822.15" y="782" width="6.7" height="4" fill="#f23645"/>
<line x1="1833.5" y1="766.1" x2="1833.5" y2="791" stroke="#a04654" stroke-width="1" shape-rendering="crispEdges"/>
<rect x="1830.15" y="785" width="6.7" height="5" fill="#f23645"/>
<line x1="1842.5" y1="777" x2="1842.5" y2="792.7" stroke="#3f8076" stroke-width="1" shape-rendering="crispEdges"/>
<rect x="1839.15" y="781" width="6.7" height="9" fill="#089981"/>
<line x1="1850.5" y1="778.1" x2="1850.5" y2="804" stroke="#a04654" stroke-width="1" shape-rendering="crispEdges"/>
<rect x="1847.15" y="781" width="6.7" height="13" fill="#f23645"/>
<line x1="1859.5" y1="779.3" x2="1859.5" y2="798.7" stroke="#3f8076" stroke-width="1" shape-rendering="crispEdges"/>
<rect x="1856.15" y="780" width="6.7" height="14" fill="#089981"/>
<line x1="1868.5" y1="725.7" x2="1868.5" y2="784.1" stroke="#3f8076" stroke-width="1" shape-rendering="crispEdges"/>
<rect x="1865.15" y="734" width="6.7" height="47" fill="#089981"/>
<line x1="1876.5" y1="716.1" x2="1876.5" y2="741.5" stroke="#3f8076" stroke-width="1" shape-rendering="crispEdges"/>
<rect x="1873.15" y="730" width="6.7" height="5" fill="#089981"/>
<line x1="1885.5" y1="692.1" x2="1885.5" y2="731" stroke="#3f8076" stroke-width="1" shape-rendering="crispEdges"/>
<rect x="1882.15" y="703" width="6.7" height="27" fill="#089981"/>
<line x1="1893.5" y1="602.2" x2="1893.5" y2="703.3" stroke="#3f8076" stroke-width="1" shape-rendering="crispEdges"/>
<rect x="1890.15" y="610" width="6.7" height="93" fill="#089981"/>
<line x1="1902.5" y1="585" x2="1902.5" y2="661.7" stroke="#a04654" stroke-width="1" shape-rendering="crispEdges"/>
<rect x="1899.15" y="610" width="6.7" height="17" fill="#f23645"/>
<line x1="1910.5" y1="620.2" x2="1910.5" y2="680.9" stroke="#a04654" stroke-width="1" shape-rendering="crispEdges"/>
<rect x="1907.15" y="626" width="6.7" height="51" fill="#f23645"/>
<line x1="1919.5" y1="666.2" x2="1919.5" y2="712.6" stroke="#a04654" stroke-width="1" shape-rendering="crispEdges"/>
<rect x="1916.15" y="676" width="6.7" height="16" fill="#f23645"/>
<line x1="1927.5" y1="677.1" x2="1927.5" y2="710.1" stroke="#a04654" stroke-width="1" shape-rendering="crispEdges"/>
<rect x="1924.15" y="691" width="6.7" height="11" fill="#f23645"/>
<line x1="1936.5" y1="696.1" x2="1936.5" y2="706.6" stroke="#a04654" stroke-width="1" shape-rendering="crispEdges"/>
<rect x="1933.15" y="701" width="6.7" height="3" fill="#f23645"/>
<line x1="1945.5" y1="696.1" x2="1945.5" y2="720.6" stroke="#a04654" stroke-width="1" shape-rendering="crispEdges"/>
<rect x="1942.15" y="703" width="6.7" height="7" fill="#f23645"/>
<line x1="1953.5" y1="697.3" x2="1953.5" y2="722.8" stroke="#a04654" stroke-width="1" shape-rendering="crispEdges"/>
<rect x="1950.15" y="709" width="6.7" height="12" fill="#f23645"/>
</g>
<line x1="10.5" y1="1093.5" x2="2108.5" y2="1093.5" stroke="#e6e6e6" stroke-width="1" shape-rendering="crispEdges"/>
<g clip-path="url(#crsi)">
<rect x="10.5" y="1124.4" width="2031.5" height="44.899999999999864" fill="#7e57c2" fill-opacity="0.1"/>
<clipPath id="cob"><rect x="0" y="0" width="2119" height="1124.4"/></clipPath>
<polygon points="343.3,1124.4 343.3,1135.1 351.6,1129.2 359.8,1120.5 368.1,1114.3 377.5,1113.4 385.8,1111 394.1,1108 403.5,1112 411.8,1109.2 420,1102.6 428.3,1108 437.7,1107.3 446,1106.8 454.2,1105.6 462.5,1105.6 471.9,1131.6 471.9,1124.4" fill="url(#gob)" clip-path="url(#cob)"/>
<line x1="10.5" y1="1124.5" x2="2042" y2="1124.5" stroke="#787b86" stroke-opacity="1" stroke-width="1" stroke-dasharray="4 4" shape-rendering="crispEdges"/>
<line x1="10.5" y1="1146.5" x2="2042" y2="1146.5" stroke="#787b86" stroke-opacity="0.6" stroke-width="1" stroke-dasharray="4 4" shape-rendering="crispEdges"/>
<line x1="10.5" y1="1169.5" x2="2042" y2="1169.5" stroke="#787b86" stroke-opacity="1" stroke-width="1" stroke-dasharray="4 4" shape-rendering="crispEdges"/>
<polyline points="10.6,1146.4 18.32,1147.59 26.88,1148.77 35.44,1149.7 44.01,1150.51 52.57,1151.26 61.13,1151.84 69.7,1152.1 78.26,1152.06 86.82,1151.94 95.39,1151.77 103.95,1151.56 112.51,1151.34 121.08,1151.12 129.64,1150.81 138.21,1150.45 146.77,1150.1 155.33,1149.83 163.9,1149.7 172.46,1149.79 181.02,1150.08 189.59,1150.49 198.15,1150.95 206.71,1151.38 215.28,1151.7 223.84,1152.04 232.4,1152.27 240.97,1152.22 249.53,1151.81 258.09,1151.28 266.66,1150.81 275.22,1150.27 283.78,1149.65 292.35,1148.9 300.91,1148.03 309.48,1147.11 318.04,1146.14 326.6,1145.08 335.17,1143.95 343.73,1142.76 352.29,1141.32 360.86,1139.28 369.42,1136.59 377.98,1133.74 386.55,1130.79 395.11,1127.73 403.67,1124.88 412.24,1122.25 420.8,1119.73 429.36,1117.16 437.93,1114.4 446.49,1112.28 455.05,1111.13 463.62,1110.39 472.18,1110.51 480.75,1111.56 489.31,1113.25 497.87,1114.96 506.44,1116.59 515,1118.42 523.56,1120.54 532.13,1122.93 540.69,1125.73 549.25,1129.31 557.82,1132.86 566.38,1135.85 574.94,1138.77 583.51,1140.28 592.07,1140.3 600.63,1140.3 609.2,1140.31 617.76,1140.66 626.32,1141.23 634.89,1141.63 643.45,1141.96 652.02,1142.18 660.58,1142.07 669.14,1141.57 677.71,1141.21 686.27,1141.34 694.83,1141.75 703.4,1142.26 711.96,1143.04 720.52,1144.01 729.09,1144.91 737.65,1145.77 746.21,1146.59 754.78,1147.34 763.34,1148.04 771.9,1148.7 780.47,1149.36 789.03,1150.01 797.59,1150.55 806.16,1151.01 814.72,1151.41 823.29,1151.68 831.85,1151.89 840.41,1152.05 848.98,1152.16 857.54,1152.25 866.1,1152.3 874.67,1152.15 883.23,1151.71 891.79,1151.15 900.36,1150.44 908.92,1149.5 917.48,1148.42 926.05,1147.01 934.61,1145.55 943.17,1144.34 951.74,1143.25 960.3,1142.34 968.86,1141.58 977.43,1141.04 985.99,1141.25 994.56,1142.2 1003.12,1143.34 1011.68,1144.53 1020.25,1145.89 1028.81,1147.12 1037.37,1148.31 1045.94,1149.34 1054.5,1149.89 1063.06,1150.27 1071.63,1150.48 1080.19,1150.42 1088.75,1150.09 1097.32,1149.73 1105.88,1149.4 1114.44,1149.06 1123.01,1148.75 1131.57,1148.42 1140.13,1148.15 1148.7,1148.24 1157.26,1149.45 1165.83,1151.11 1174.39,1152.44 1182.95,1153.73 1191.52,1155.06 1200.08,1156.55 1208.64,1158.1 1217.21,1159.35 1225.77,1160.47 1234.33,1161.32 1242.9,1161.5 1251.46,1161.5 1260.02,1161.5 1268.59,1161.25 1277.15,1160.17 1285.71,1158.85 1294.28,1157.65 1302.84,1156.34 1311.4,1155.03 1319.97,1153.54 1328.53,1152.16 1337.1,1151.37 1345.66,1150.84 1354.22,1150.53 1362.79,1150.6 1371.35,1151.03 1379.91,1151.54 1388.48,1152.05 1397.04,1152.58 1405.6,1152.8 1414.17,1152.8 1422.73,1152.8 1431.29,1152.84 1439.86,1153.28 1448.42,1153.84 1456.98,1154.15 1465.55,1154.36 1474.11,1154.69 1482.67,1155.23 1491.24,1155.78 1499.8,1156.21 1508.37,1156.61 1516.93,1156.8 1525.49,1156.69 1534.06,1156.46 1542.62,1156.27 1551.18,1156.14 1559.75,1156.01 1568.31,1155.76 1576.87,1155.27 1585.44,1154.67 1594,1154.08 1602.56,1153.42 1611.13,1152.83 1619.69,1152.31 1628.25,1151.85 1636.82,1151.56 1645.38,1151.36 1653.94,1151.22 1662.51,1151.27 1671.07,1151.83 1679.64,1152.59 1688.2,1153.22 1696.76,1153.85 1705.33,1154.46 1713.89,1155.01 1722.45,1155.53 1731.02,1155.96 1739.58,1156.29 1748.14,1156.59 1756.71,1156.99 1765.27,1157.56 1773.83,1158.08 1782.4,1158.37 1790.96,1158.59 1799.52,1158.7 1808.09,1158.62 1816.65,1158.41 1825.21,1158.16 1833.78,1157.91 1842.34,1157.57 1850.91,1157.06 1859.47,1156.16 1868.03,1154.97 1876.6,1153.49 1885.16,1151.52 1893.72,1149.51 1902.29,1147.71 1910.85,1145.98 1919.41,1144.41 1927.98,1142.98 1936.54,1141.69 1945.1,1140.63 1953.67,1139.8" fill="none" stroke="#f5dc4a" stroke-opacity="0.6" stroke-width="1.4"/>
<polyline points="10.6,1158.7 18.9,1156.4 28.3,1155.2 35.4,1153.5 43.7,1149.7 50.7,1152.8 60.9,1160.6 68.4,1154 77.9,1151.6 86.1,1144.6 95.6,1140.3 103.8,1141.7 112.1,1145 121.5,1151.6 129.8,1154.5 138,1155.2 146.3,1152.8 155.3,1145.7 162.8,1152.1 172.3,1151.2 180.5,1151.6 188.8,1155.2 198.2,1159.2 206.5,1162.7 214.7,1148.8 223,1145.7 233.6,1146.2 240.7,1152.1 248.9,1149.7 257.2,1145.7 266.6,1143.4 274.9,1141 283.2,1147.4 291.4,1142.2 299.7,1139.8 307.9,1143.4 317.4,1144.1 326.8,1139.1 335.1,1138.9 343.3,1135.1 351.6,1129.2 359.8,1120.5 368.1,1114.3 377.5,1113.4 385.8,1111 394.1,1108 403.5,1112 411.8,1109.2 420,1102.6 428.3,1108 437.7,1107.3 446,1106.8 454.2,1105.6 462.5,1105.6 471.9,1131.6 480.2,1133.9 488.4,1133.9 497.1,1132.8 505.3,1130.4 513.6,1137 523,1137.5 531.3,1139.4 539.6,1143.4 549,1147.4 557.2,1156.3 565.5,1148.1 573.8,1141.5 582,1145.7 591.5,1144.6 599.7,1132.3 608,1134.6 616.2,1137.5 625.7,1139.4 633.9,1141.7 643.4,1137 651.6,1136.8 659.9,1145.7 669.3,1145.7 677.6,1144.6 685.8,1145.7 694.1,1146.9 703.5,1156.3 710.6,1151.6 720.1,1155.9 728.3,1145 736.6,1145.7 744.8,1146.9 754.3,1154 762.5,1146.4 770.8,1148.8 780.2,1149.7 788.5,1154.5 796.7,1155.2 806.2,1157.1 814.4,1157.5 822.7,1151.6 831,1152.1 839.2,1154.5 848.7,1153.3 856.9,1153.3 865.2,1149.7 873.4,1142.9 882.9,1144.6 891.1,1141.7 900.6,1137.9 908.8,1134.6 917.1,1134.4 925.3,1141.7 933.6,1144.1 943,1141 951.3,1138.2 959.6,1139.1 967.8,1145.7 976.1,1146.9 984.5,1147.4 993.7,1155.9 1002.4,1157.5 1010.7,1149.3 1020.1,1159.2 1028.4,1156.8 1036.6,1155.2 1044.9,1150.5 1053.1,1148.8 1062.6,1151.6 1070.8,1143.8 1080.3,1137.5 1088.5,1137.5 1096.8,1143.4 1105.1,1143.4 1113.3,1142.2 1121.6,1152.1 1131,1150.5 1139.3,1155.2 1147.5,1172.4 1155.8,1171.7 1164,1161.1 1173.5,1156.8 1181.7,1161.1 1190,1163.9 1198.3,1166.3 1207.7,1167.7 1216,1163.4 1224.2,1161.1 1233.7,1154 1241.9,1157.1 1250.2,1159.4 1259.6,1157.5 1267.9,1151.6 1276.1,1146.9 1284.4,1142.9 1293.8,1143.8 1302.1,1145.7 1310.3,1148.8 1318.6,1155.2 1326.9,1150.5 1336.3,1150.5 1344.6,1149.3 1352.8,1159.9 1361.1,1164.6 1370.5,1155.9 1378.8,1159.9 1387,1154.5 1395.3,1155.2 1403.6,1151.6 1413,1143.4 1421.3,1149.3 1429.5,1149.7 1437.8,1152.1 1447.2,1155.6 1455.5,1156.3 1463.7,1157.5 1473.2,1159.2 1482.3,1155.9 1491.2,1160.6 1499.5,1164.6 1507.8,1166.3 1516,1166.3 1525.5,1158.2 1532.5,1148.1 1542,1149.3 1550.2,1148.1 1558.5,1149.3 1566.7,1150.5 1576.2,1149.3 1584.4,1152.1 1592.7,1158.7 1601,1149.7 1610.4,1146.9 1618.7,1152.1 1626.9,1155.2 1635.2,1156.3 1644.6,1155.2 1652.9,1152.8 1661.1,1150.5 1669.4,1154 1678.8,1155.2 1687.1,1156.8 1695.3,1155.2 1703.6,1158.2 1713,1163.4 1721.3,1160.6 1729.6,1163.9 1739,1166.5 1747.3,1156.8 1755.5,1154.5 1763.8,1155.2 1773.2,1156.8 1781.5,1158.7 1789.7,1159.4 1798,1161.5 1807.4,1159.9 1815.7,1156.3 1823.9,1156.8 1833.4,1158.2 1841.6,1155.2 1849.9,1157.5 1858.2,1152.8 1866.4,1139.4 1875.9,1138.2 1884.1,1132.3 1892.4,1118.6 1901.8,1123.3 1910.1,1135.6 1918.3,1138.7 1927.8,1141 1936,1141.5 1944.3,1143.4 1952.5,1145.6" fill="none" stroke="#7e57c2" stroke-width="1"/>
</g>
<g font-family="Liberation Sans, sans-serif" font-size="12" fill="#131722">
<text x="2052.2" y="51.5" textLength="35.4" lengthAdjust="spacingAndGlyphs">3.9000</text>
<text x="2052.2" y="87.76" textLength="35.4" lengthAdjust="spacingAndGlyphs">3.8000</text>
<text x="2052.2" y="124.03" textLength="35.4" lengthAdjust="spacingAndGlyphs">3.7000</text>
<text x="2052.2" y="160.29" textLength="35.4" lengthAdjust="spacingAndGlyphs">3.6000</text>
<text x="2052.2" y="196.55" textLength="35.4" lengthAdjust="spacingAndGlyphs">3.5000</text>
<text x="2052.2" y="232.81" textLength="35.4" lengthAdjust="spacingAndGlyphs">3.4000</text>
<text x="2052.2" y="269.08" textLength="35.4" lengthAdjust="spacingAndGlyphs">3.3000</text>
<text x="2052.2" y="305.34" textLength="35.4" lengthAdjust="spacingAndGlyphs">3.2000</text>
<text x="2052.2" y="341.6" textLength="35.4" lengthAdjust="spacingAndGlyphs">3.1000</text>
<text x="2052.2" y="377.87" textLength="35.4" lengthAdjust="spacingAndGlyphs">3.0000</text>
<text x="2052.2" y="414.13" textLength="35.4" lengthAdjust="spacingAndGlyphs">2.9000</text>
<text x="2052.2" y="450.39" textLength="35.4" lengthAdjust="spacingAndGlyphs">2.8000</text>
<text x="2052.2" y="486.66" textLength="35.4" lengthAdjust="spacingAndGlyphs">2.7000</text>
<text x="2052.2" y="522.92" textLength="35.4" lengthAdjust="spacingAndGlyphs">2.6000</text>
<text x="2052.2" y="559.18" textLength="35.4" lengthAdjust="spacingAndGlyphs">2.5000</text>
<text x="2052.2" y="595.44" textLength="35.4" lengthAdjust="spacingAndGlyphs">2.4000</text>
<text x="2052.2" y="631.71" textLength="35.4" lengthAdjust="spacingAndGlyphs">2.3000</text>
<text x="2052.2" y="704.23" textLength="35.4" lengthAdjust="spacingAndGlyphs">2.1000</text>
<text x="2052.2" y="813.02" textLength="35.4" lengthAdjust="spacingAndGlyphs">1.8000</text>
<text x="2052.2" y="849.29" textLength="35.4" lengthAdjust="spacingAndGlyphs">1.7000</text>
<text x="2052.2" y="885.55" textLength="35.4" lengthAdjust="spacingAndGlyphs">1.6000</text>
<text x="2052.2" y="921.81" textLength="35.4" lengthAdjust="spacingAndGlyphs">1.5000</text>
<text x="2052.2" y="958.08" textLength="35.4" lengthAdjust="spacingAndGlyphs">1.4000</text>
<text x="2052.2" y="994.34" textLength="35.4" lengthAdjust="spacingAndGlyphs">1.3000</text>
<text x="2052.2" y="1030.6" textLength="35.4" lengthAdjust="spacingAndGlyphs">1.2000</text>
<text x="2052.2" y="1066.86" textLength="35.4" lengthAdjust="spacingAndGlyphs">1.1000</text>
<text x="2052.5" y="1116.9" textLength="28.5" lengthAdjust="spacingAndGlyphs">80.00</text>
<text x="2052.5" y="1162.1" textLength="28.5" lengthAdjust="spacingAndGlyphs">40.00</text>
</g>
<rect x="2044.2" y="608" width="48.4" height="16.7" rx="2" fill="#000000"/>
<text x="2052.2" y="620.65" font-family="Liberation Sans, sans-serif" font-size="12" fill="#ffffff" textLength="35" lengthAdjust="spacingAndGlyphs">2.3324</text>
<rect x="2044.2" y="651" width="48.4" height="16.6" rx="2" fill="#ff9800"/>
<text x="2052.2" y="663.6" font-family="Liberation Sans, sans-serif" font-size="12" fill="#131722" textLength="35" lengthAdjust="spacingAndGlyphs">2.2119</text>
<rect x="2044.2" y="712.3" width="59.5" height="30.1" rx="2" fill="#f23645"/>
<text x="2052.2" y="724.6" font-family="Liberation Sans, sans-serif" font-size="12" fill="#fff" textLength="35.3" lengthAdjust="spacingAndGlyphs">2.0457</text>
<text x="2052.6" y="738.6" font-family="Liberation Sans, sans-serif" font-size="12" fill="#fff" textLength="45.4" lengthAdjust="spacingAndGlyphs">13:48:05</text>
<rect x="1986" y="712.3" width="56.9" height="16.5" rx="2" fill="#f23645"/>
<text x="1990.5" y="724.85" font-family="Liberation Sans, sans-serif" font-size="12" fill="#fff" textLength="48" lengthAdjust="spacingAndGlyphs">XRPUSDT</text>
<rect x="2044.2" y="743.2" width="48.6" height="16.4" rx="2" fill="#0b8015"/>
<text x="2052.2" y="755.7" font-family="Liberation Sans, sans-serif" font-size="12" fill="#ffffff" textLength="35" lengthAdjust="spacingAndGlyphs">2.0392</text>
<rect x="2044.2" y="759.6" width="48.6" height="17" rx="2" fill="#5b9cf6"/>
<text x="2052.2" y="772.4" font-family="Liberation Sans, sans-serif" font-size="12" fill="#131722" textLength="35" lengthAdjust="spacingAndGlyphs">2.0274</text>
<rect x="2044.2" y="1060.2" width="52.5" height="16.3" rx="2" fill="#ec4651"/>
<text x="2052.2" y="1072.65" font-family="Liberation Sans, sans-serif" font-size="12" fill="#ffffff" textLength="40" lengthAdjust="spacingAndGlyphs">59.52 M</text>
<rect x="2044.2" y="1121.2" width="42.6" height="16.4" rx="2" fill="#fae63c"/>
<text x="2052.2" y="1133.7" font-family="Liberation Sans, sans-serif" font-size="12" fill="#131722" textLength="28.5" lengthAdjust="spacingAndGlyphs">55.15</text>
<rect x="2044.2" y="1137.6" width="42.6" height="17" rx="2" fill="#7e57c2"/>
<text x="2052.2" y="1150.4" font-family="Liberation Sans, sans-serif" font-size="12" fill="#ffffff" textLength="28.5" lengthAdjust="spacingAndGlyphs">50.53</text>
<g font-family="Liberation Sans, sans-serif" font-size="12" fill="#131722" text-anchor="middle">
<text x="26.1" y="1198.8" textLength="18.1" lengthAdjust="spacingAndGlyphs">Jun</text>
<text x="283.1" y="1198.8" textLength="15.1" lengthAdjust="spacingAndGlyphs">Jul</text>
<text x="549.1" y="1198.8" textLength="19.1" lengthAdjust="spacingAndGlyphs">Aug</text>
<text x="814.1" y="1198.8" textLength="18.7" lengthAdjust="spacingAndGlyphs">Sep</text>
<text x="1071.1" y="1198.8" textLength="18.4" lengthAdjust="spacingAndGlyphs">Oct</text>
<text x="1337.1" y="1198.8" textLength="19.8" lengthAdjust="spacingAndGlyphs">Nov</text>
<text x="1594.1" y="1198.8" textLength="19.6" lengthAdjust="spacingAndGlyphs">Dec</text>
<text x="1859.1" y="1198.8" textLength="26.7" lengthAdjust="spacingAndGlyphs" font-weight="bold">2026</text>
</g>
<text x="10.3" y="18.8" font-family="Liberation Sans, sans-serif" font-size="12" fill="#131722" textLength="388.5" lengthAdjust="spacingAndGlyphs">arman_shirinyan created with TradingView.com, Jan 12, 2026 10:11 UTC</text>
<g font-family="Liberation Sans, sans-serif" font-size="12">
<text x="17.8" y="45.6" fill="#131722" textLength="160.6" lengthAdjust="spacingAndGlyphs">XRP / TetherUS · 1D · Binance</text>
<text x="186.3" y="45.6" fill="#131722">O</text>
<text x="195.4" y="45.6" fill="#e24a5a" textLength="34.2" lengthAdjust="spacingAndGlyphs">2.0745</text>
<text x="237.2" y="45.6" fill="#131722">H</text>
<text x="245.5" y="45.6" fill="#e24a5a" textLength="34.7" lengthAdjust="spacingAndGlyphs">2.1069</text>
<text x="288.8" y="45.6" fill="#131722">L</text>
<text x="295.3" y="45.6" fill="#e24a5a" textLength="34.5" lengthAdjust="spacingAndGlyphs">2.0350</text>
<text x="337.2" y="45.6" fill="#131722">C</text>
<text x="345.2" y="45.6" fill="#e24a5a" textLength="34.7" lengthAdjust="spacingAndGlyphs">2.0457</text>
<text x="388.2" y="45.6" fill="#e24a5a" textLength="41.5" lengthAdjust="spacingAndGlyphs">−0.0288</text>
<text x="434.6" y="45.6" fill="#e24a5a" textLength="43.5" lengthAdjust="spacingAndGlyphs">(−1.39%)</text>
</g>
<g fill="#131722">
<path d="M11.8 1231 H23.6 V1246 H17.7 V1236.7 H11.8 Z"/>
<circle cx="29.4" cy="1233.9" r="2.9"/>
<path d="M34.4 1231 H41.6 L36.3 1246 H29.2 Z"/>
<text x="49" y="1246" font-family="Liberation Sans, sans-serif" font-size="20.5" font-weight="bold" textLength="120.4" lengthAdjust="spacingAndGlyphs">TradingView</text>
</g></svg>
</body></html>
